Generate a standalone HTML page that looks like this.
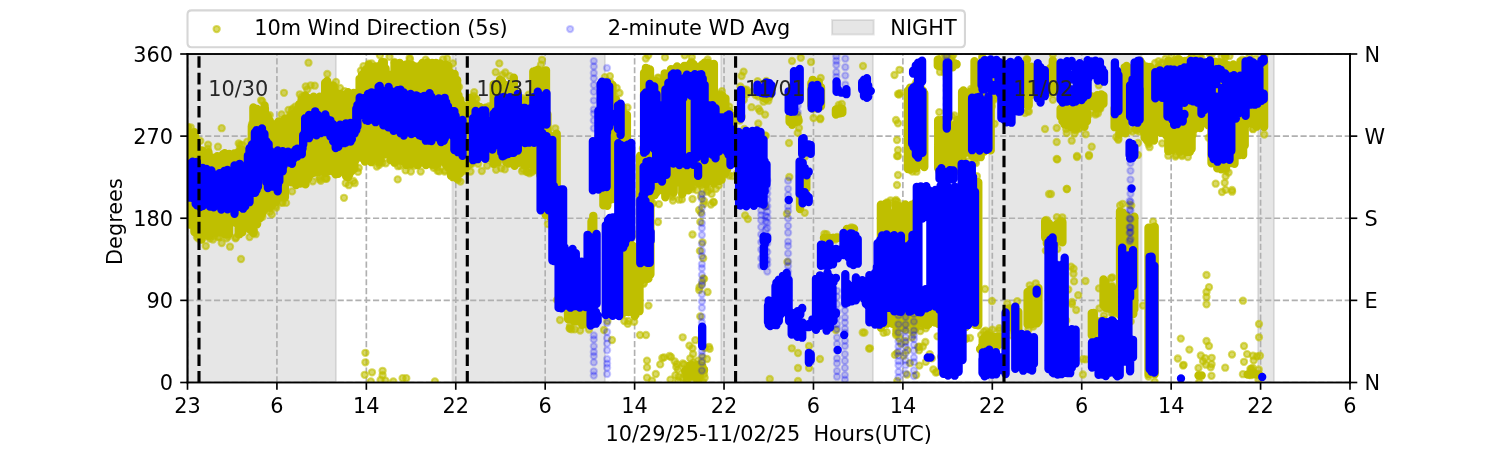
<!DOCTYPE html>
<html><head><meta charset="utf-8"><style>
html,body{margin:0;padding:0;background:#fff;width:1500px;height:450px;overflow:hidden}
svg{display:block}
text{white-space:pre}
.m circle{r:3.125px}
</style></head><body>
<svg width="1500" height="450" viewBox="0 0 720 216" version="1.1">
 
 <defs><clipPath id="axclip"><rect x="187.5" y="54" width="1162.5" height="328.5"/></clipPath>
  <style type="text/css">*{stroke-linejoin: round; stroke-linecap: butt}</style>
 </defs>
 <g id="figure_1">
  <g id="patch_1">
   <path d="M 0 216 
L 720 216 
L 720 0 
L 0 0 
z
" style="fill: #ffffff"/>
  </g>
  <g id="axes_1">
   <g id="patch_2">
    <path d="M 90 183.6 
L 648 183.6 
L 648 25.92 
L 90 25.92 
z
" style="fill: #ffffff"/>
   </g>
   <g id="patch_3">
    <path d="M 90 183.6 
L 161.28 183.6 
L 161.28 25.92 
L 90 25.92 
z
" clip-path="url(#pb94ecb44f5)" style="fill: #808080; fill-opacity: 0.2; stroke-opacity: 0.2; stroke: #808080; stroke-linejoin: miter"/>
   </g>
   <g id="patch_4">
    <path d="M 217.2 183.6 
L 290.4 183.6 
L 290.4 25.92 
L 217.2 25.92 
z
" clip-path="url(#pb94ecb44f5)" style="fill: #808080; fill-opacity: 0.2; stroke-opacity: 0.2; stroke: #808080; stroke-linejoin: miter"/>
   </g>
   <g id="patch_5">
    <path d="M 346.08 183.6 
L 419.04 183.6 
L 419.04 25.92 
L 346.08 25.92 
z
" clip-path="url(#pb94ecb44f5)" style="fill: #808080; fill-opacity: 0.2; stroke-opacity: 0.2; stroke: #808080; stroke-linejoin: miter"/>
   </g>
   <g id="patch_6">
    <path d="M 474.72 183.6 
L 547.92 183.6 
L 547.92 25.92 
L 474.72 25.92 
z
" clip-path="url(#pb94ecb44f5)" style="fill: #808080; fill-opacity: 0.2; stroke-opacity: 0.2; stroke: #808080; stroke-linejoin: miter"/>
   </g>
   <g id="patch_7">
    <path d="M 603.84 183.6 
L 611.52 183.6 
L 611.52 25.92 
L 603.84 25.92 
z
" clip-path="url(#pb94ecb44f5)" style="fill: #808080; fill-opacity: 0.2; stroke-opacity: 0.2; stroke: #808080; stroke-linejoin: miter"/>
   </g>
   <g id="matplotlib.axis_1">
    <g id="xtick_1">
     <g id="line2d_1">
      <path d="M 90 183.6 
L 90 25.92 
" clip-path="url(#pb94ecb44f5)" style="fill: none; stroke-dasharray: 2.96,1.28; stroke-dashoffset: 0; stroke: #b0b0b0; stroke-width: 0.8"/>
     </g>
     <g id="line2d_2">
      <defs>
       <path id="m1504cfccaf" d="M 0 0 
L 0 3.5 
" style="stroke: #000000; stroke-width: 0.8"/>
      </defs>
      <g>
       <use href="#m1504cfccaf" x="90" y="183.6" style="stroke: #000000; stroke-width: 0.8"/>
      </g>
     </g>
     <g id="text_1">
      <text style="font-size: 10px; font-family: 'DejaVu Sans', sans-serif; text-anchor: middle" x="90" y="198.198438" transform="rotate(-0 90 198.198438)">23</text>
     </g>
    </g>
    <g id="xtick_2">
     <g id="line2d_3">
      <path d="M 132.923077 183.6 
L 132.923077 25.92 
" clip-path="url(#pb94ecb44f5)" style="fill: none; stroke-dasharray: 2.96,1.28; stroke-dashoffset: 0; stroke: #b0b0b0; stroke-width: 0.8"/>
     </g>
     <g id="line2d_4">
      <g>
       <use href="#m1504cfccaf" x="132.923077" y="183.6" style="stroke: #000000; stroke-width: 0.8"/>
      </g>
     </g>
     <g id="text_2">
      <text style="font-size: 10px; font-family: 'DejaVu Sans', sans-serif; text-anchor: middle" x="132.923077" y="198.198438" transform="rotate(-0 132.923077 198.198438)">6</text>
     </g>
    </g>
    <g id="xtick_3">
     <g id="line2d_5">
      <path d="M 175.846154 183.6 
L 175.846154 25.92 
" clip-path="url(#pb94ecb44f5)" style="fill: none; stroke-dasharray: 2.96,1.28; stroke-dashoffset: 0; stroke: #b0b0b0; stroke-width: 0.8"/>
     </g>
     <g id="line2d_6">
      <g>
       <use href="#m1504cfccaf" x="175.846154" y="183.6" style="stroke: #000000; stroke-width: 0.8"/>
      </g>
     </g>
     <g id="text_3">
      <text style="font-size: 10px; font-family: 'DejaVu Sans', sans-serif; text-anchor: middle" x="175.846154" y="198.198438" transform="rotate(-0 175.846154 198.198438)">14</text>
     </g>
    </g>
    <g id="xtick_4">
     <g id="line2d_7">
      <path d="M 218.769231 183.6 
L 218.769231 25.92 
" clip-path="url(#pb94ecb44f5)" style="fill: none; stroke-dasharray: 2.96,1.28; stroke-dashoffset: 0; stroke: #b0b0b0; stroke-width: 0.8"/>
     </g>
     <g id="line2d_8">
      <g>
       <use href="#m1504cfccaf" x="218.769231" y="183.6" style="stroke: #000000; stroke-width: 0.8"/>
      </g>
     </g>
     <g id="text_4">
      <text style="font-size: 10px; font-family: 'DejaVu Sans', sans-serif; text-anchor: middle" x="218.769231" y="198.198438" transform="rotate(-0 218.769231 198.198438)">22</text>
     </g>
    </g>
    <g id="xtick_5">
     <g id="line2d_9">
      <path d="M 261.692308 183.6 
L 261.692308 25.92 
" clip-path="url(#pb94ecb44f5)" style="fill: none; stroke-dasharray: 2.96,1.28; stroke-dashoffset: 0; stroke: #b0b0b0; stroke-width: 0.8"/>
     </g>
     <g id="line2d_10">
      <g>
       <use href="#m1504cfccaf" x="261.692308" y="183.6" style="stroke: #000000; stroke-width: 0.8"/>
      </g>
     </g>
     <g id="text_5">
      <text style="font-size: 10px; font-family: 'DejaVu Sans', sans-serif; text-anchor: middle" x="261.692308" y="198.198438" transform="rotate(-0 261.692308 198.198438)">6</text>
     </g>
    </g>
    <g id="xtick_6">
     <g id="line2d_11">
      <path d="M 304.615385 183.6 
L 304.615385 25.92 
" clip-path="url(#pb94ecb44f5)" style="fill: none; stroke-dasharray: 2.96,1.28; stroke-dashoffset: 0; stroke: #b0b0b0; stroke-width: 0.8"/>
     </g>
     <g id="line2d_12">
      <g>
       <use href="#m1504cfccaf" x="304.615385" y="183.6" style="stroke: #000000; stroke-width: 0.8"/>
      </g>
     </g>
     <g id="text_6">
      <text style="font-size: 10px; font-family: 'DejaVu Sans', sans-serif; text-anchor: middle" x="304.615385" y="198.198438" transform="rotate(-0 304.615385 198.198438)">14</text>
     </g>
    </g>
    <g id="xtick_7">
     <g id="line2d_13">
      <path d="M 347.538462 183.6 
L 347.538462 25.92 
" clip-path="url(#pb94ecb44f5)" style="fill: none; stroke-dasharray: 2.96,1.28; stroke-dashoffset: 0; stroke: #b0b0b0; stroke-width: 0.8"/>
     </g>
     <g id="line2d_14">
      <g>
       <use href="#m1504cfccaf" x="347.538462" y="183.6" style="stroke: #000000; stroke-width: 0.8"/>
      </g>
     </g>
     <g id="text_7">
      <text style="font-size: 10px; font-family: 'DejaVu Sans', sans-serif; text-anchor: middle" x="347.538462" y="198.198438" transform="rotate(-0 347.538462 198.198438)">22</text>
     </g>
    </g>
    <g id="xtick_8">
     <g id="line2d_15">
      <path d="M 390.461538 183.6 
L 390.461538 25.92 
" clip-path="url(#pb94ecb44f5)" style="fill: none; stroke-dasharray: 2.96,1.28; stroke-dashoffset: 0; stroke: #b0b0b0; stroke-width: 0.8"/>
     </g>
     <g id="line2d_16">
      <g>
       <use href="#m1504cfccaf" x="390.461538" y="183.6" style="stroke: #000000; stroke-width: 0.8"/>
      </g>
     </g>
     <g id="text_8">
      <text style="font-size: 10px; font-family: 'DejaVu Sans', sans-serif; text-anchor: middle" x="390.461538" y="198.198438" transform="rotate(-0 390.461538 198.198438)">6</text>
     </g>
    </g>
    <g id="xtick_9">
     <g id="line2d_17">
      <path d="M 433.384615 183.6 
L 433.384615 25.92 
" clip-path="url(#pb94ecb44f5)" style="fill: none; stroke-dasharray: 2.96,1.28; stroke-dashoffset: 0; stroke: #b0b0b0; stroke-width: 0.8"/>
     </g>
     <g id="line2d_18">
      <g>
       <use href="#m1504cfccaf" x="433.384615" y="183.6" style="stroke: #000000; stroke-width: 0.8"/>
      </g>
     </g>
     <g id="text_9">
      <text style="font-size: 10px; font-family: 'DejaVu Sans', sans-serif; text-anchor: middle" x="433.384615" y="198.198438" transform="rotate(-0 433.384615 198.198438)">14</text>
     </g>
    </g>
    <g id="xtick_10">
     <g id="line2d_19">
      <path d="M 476.307692 183.6 
L 476.307692 25.92 
" clip-path="url(#pb94ecb44f5)" style="fill: none; stroke-dasharray: 2.96,1.28; stroke-dashoffset: 0; stroke: #b0b0b0; stroke-width: 0.8"/>
     </g>
     <g id="line2d_20">
      <g>
       <use href="#m1504cfccaf" x="476.307692" y="183.6" style="stroke: #000000; stroke-width: 0.8"/>
      </g>
     </g>
     <g id="text_10">
      <text style="font-size: 10px; font-family: 'DejaVu Sans', sans-serif; text-anchor: middle" x="476.307692" y="198.198438" transform="rotate(-0 476.307692 198.198438)">22</text>
     </g>
    </g>
    <g id="xtick_11">
     <g id="line2d_21">
      <path d="M 519.230769 183.6 
L 519.230769 25.92 
" clip-path="url(#pb94ecb44f5)" style="fill: none; stroke-dasharray: 2.96,1.28; stroke-dashoffset: 0; stroke: #b0b0b0; stroke-width: 0.8"/>
     </g>
     <g id="line2d_22">
      <g>
       <use href="#m1504cfccaf" x="519.230769" y="183.6" style="stroke: #000000; stroke-width: 0.8"/>
      </g>
     </g>
     <g id="text_11">
      <text style="font-size: 10px; font-family: 'DejaVu Sans', sans-serif; text-anchor: middle" x="519.230769" y="198.198438" transform="rotate(-0 519.230769 198.198438)">6</text>
     </g>
    </g>
    <g id="xtick_12">
     <g id="line2d_23">
      <path d="M 562.153846 183.6 
L 562.153846 25.92 
" clip-path="url(#pb94ecb44f5)" style="fill: none; stroke-dasharray: 2.96,1.28; stroke-dashoffset: 0; stroke: #b0b0b0; stroke-width: 0.8"/>
     </g>
     <g id="line2d_24">
      <g>
       <use href="#m1504cfccaf" x="562.153846" y="183.6" style="stroke: #000000; stroke-width: 0.8"/>
      </g>
     </g>
     <g id="text_12">
      <text style="font-size: 10px; font-family: 'DejaVu Sans', sans-serif; text-anchor: middle" x="562.153846" y="198.198438" transform="rotate(-0 562.153846 198.198438)">14</text>
     </g>
    </g>
    <g id="xtick_13">
     <g id="line2d_25">
      <path d="M 605.076923 183.6 
L 605.076923 25.92 
" clip-path="url(#pb94ecb44f5)" style="fill: none; stroke-dasharray: 2.96,1.28; stroke-dashoffset: 0; stroke: #b0b0b0; stroke-width: 0.8"/>
     </g>
     <g id="line2d_26">
      <g>
       <use href="#m1504cfccaf" x="605.076923" y="183.6" style="stroke: #000000; stroke-width: 0.8"/>
      </g>
     </g>
     <g id="text_13">
      <text style="font-size: 10px; font-family: 'DejaVu Sans', sans-serif; text-anchor: middle" x="605.076923" y="198.198438" transform="rotate(-0 605.076923 198.198438)">22</text>
     </g>
    </g>
    <g id="xtick_14">
     <g id="line2d_27">
      <path d="M 648 183.6 
L 648 25.92 
" clip-path="url(#pb94ecb44f5)" style="fill: none; stroke-dasharray: 2.96,1.28; stroke-dashoffset: 0; stroke: #b0b0b0; stroke-width: 0.8"/>
     </g>
     <g id="line2d_28">
      <g>
       <use href="#m1504cfccaf" x="648" y="183.6" style="stroke: #000000; stroke-width: 0.8"/>
      </g>
     </g>
     <g id="text_14">
      <text style="font-size: 10px; font-family: 'DejaVu Sans', sans-serif; text-anchor: middle" x="648" y="198.198438" transform="rotate(-0 648 198.198438)">6</text>
     </g>
    </g>
    <g id="text_15">
     <text style="font-size: 10px; font-family: 'DejaVu Sans', sans-serif; text-anchor: middle" x="369" y="211.876563" transform="rotate(-0 369 211.876563)">10/29/25-11/02/25  Hours(UTC)</text>
    </g>
   </g>
   <g id="matplotlib.axis_2">
    <g id="ytick_1">
     <g id="line2d_29">
      <path d="M 90 183.6 
L 648 183.6 
" clip-path="url(#pb94ecb44f5)" style="fill: none; stroke-dasharray: 2.96,1.28; stroke-dashoffset: 0; stroke: #b0b0b0; stroke-width: 0.8"/>
     </g>
     <g id="line2d_30">
      <defs>
       <path id="m5d545ce8f8" d="M 0 0 
L -3.5 0 
" style="stroke: #000000; stroke-width: 0.8"/>
      </defs>
      <g>
       <use href="#m5d545ce8f8" x="90" y="183.6" style="stroke: #000000; stroke-width: 0.8"/>
      </g>
     </g>
     <g id="text_16">
      <text style="font-size: 10px; font-family: 'DejaVu Sans', sans-serif; text-anchor: end" x="83" y="187.399219" transform="rotate(-0 83 187.399219)">0</text>
     </g>
    </g>
    <g id="ytick_2">
     <g id="line2d_31">
      <path d="M 90 144.18 
L 648 144.18 
" clip-path="url(#pb94ecb44f5)" style="fill: none; stroke-dasharray: 2.96,1.28; stroke-dashoffset: 0; stroke: #b0b0b0; stroke-width: 0.8"/>
     </g>
     <g id="line2d_32">
      <g>
       <use href="#m5d545ce8f8" x="90" y="144.18" style="stroke: #000000; stroke-width: 0.8"/>
      </g>
     </g>
     <g id="text_17">
      <text style="font-size: 10px; font-family: 'DejaVu Sans', sans-serif; text-anchor: end" x="83" y="147.979219" transform="rotate(-0 83 147.979219)">90</text>
     </g>
    </g>
    <g id="ytick_3">
     <g id="line2d_33">
      <path d="M 90 104.76 
L 648 104.76 
" clip-path="url(#pb94ecb44f5)" style="fill: none; stroke-dasharray: 2.96,1.28; stroke-dashoffset: 0; stroke: #b0b0b0; stroke-width: 0.8"/>
     </g>
     <g id="line2d_34">
      <g>
       <use href="#m5d545ce8f8" x="90" y="104.76" style="stroke: #000000; stroke-width: 0.8"/>
      </g>
     </g>
     <g id="text_18">
      <text style="font-size: 10px; font-family: 'DejaVu Sans', sans-serif; text-anchor: end" x="83" y="108.559219" transform="rotate(-0 83 108.559219)">180</text>
     </g>
    </g>
    <g id="ytick_4">
     <g id="line2d_35">
      <path d="M 90 65.34 
L 648 65.34 
" clip-path="url(#pb94ecb44f5)" style="fill: none; stroke-dasharray: 2.96,1.28; stroke-dashoffset: 0; stroke: #b0b0b0; stroke-width: 0.8"/>
     </g>
     <g id="line2d_36">
      <g>
       <use href="#m5d545ce8f8" x="90" y="65.34" style="stroke: #000000; stroke-width: 0.8"/>
      </g>
     </g>
     <g id="text_19">
      <text style="font-size: 10px; font-family: 'DejaVu Sans', sans-serif; text-anchor: end" x="83" y="69.139219" transform="rotate(-0 83 69.139219)">270</text>
     </g>
    </g>
    <g id="ytick_5">
     <g id="line2d_37">
      <path d="M 90 25.92 
L 648 25.92 
" clip-path="url(#pb94ecb44f5)" style="fill: none; stroke-dasharray: 2.96,1.28; stroke-dashoffset: 0; stroke: #b0b0b0; stroke-width: 0.8"/>
     </g>
     <g id="line2d_38">
      <g>
       <use href="#m5d545ce8f8" x="90" y="25.92" style="stroke: #000000; stroke-width: 0.8"/>
      </g>
     </g>
     <g id="text_20">
      <text style="font-size: 10px; font-family: 'DejaVu Sans', sans-serif; text-anchor: end" x="83" y="29.719219" transform="rotate(-0 83 29.719219)">360</text>
     </g>
    </g>
    <g id="text_21">
     <text style="font-size: 10px; font-family: 'DejaVu Sans', sans-serif; text-anchor: middle" x="57.832812" y="104.76" transform="translate(0.96 1.6) rotate(-90 57.832812 104.76)">Degrees</text>
    </g>
   </g>
   <g id="DATA_HERE">
    <defs>
     <path id="mfba19ebd6b" d="M 0 1.5 
C 0.397805 1.5 0.77937 1.341951 1.06066 1.06066 
C 1.341951 0.77937 1.5 0.397805 1.5 0 
C 1.5 -0.397805 1.341951 -0.77937 1.06066 -1.06066 
C 0.77937 -1.341951 0.397805 -1.5 0 -1.5 
C -0.397805 -1.5 -0.77937 -1.341951 -1.06066 -1.06066 
C -1.341951 -0.77937 -1.5 -0.397805 -1.5 0 
C -1.5 0.397805 -1.341951 0.77937 -1.06066 1.06066 
C -0.77937 1.341951 -0.397805 1.5 0 1.5 
z
" style="stroke: #bfbf00; stroke-opacity: 0.6"/>
    </defs>
    <g id="data" clip-path="url(#axclip)" transform="scale(0.48)"><g fill="#bfbf00" stroke="#bfbf00" fill-opacity="0.6" stroke-opacity="0.6" stroke-width="2.083" class="m"><circle cx="190.7" cy="127.3"/><circle cx="187.9" cy="127"/><circle cx="187.7" cy="127.6"/><circle cx="200.3" cy="140.9"/><circle cx="196.9" cy="237.1"/><circle cx="198.5" cy="238.5"/><circle cx="209.9" cy="238.6"/><circle cx="208.1" cy="144.6"/><circle cx="207.9" cy="148.9"/><circle cx="213.7" cy="236.3"/><circle cx="218" cy="146.7"/><circle cx="210.9" cy="236.1"/><circle cx="218.3" cy="237"/><circle cx="213" cy="239.5"/><circle cx="219.6" cy="237.2"/><circle cx="239.7" cy="148.9"/><circle cx="235.5" cy="238.4"/><circle cx="235.9" cy="237.4"/><circle cx="228.2" cy="236.3"/><circle cx="238.7" cy="143.4"/><circle cx="226.6" cy="238.3"/><circle cx="242" cy="144.9"/><circle cx="240.2" cy="144.9"/><circle cx="247.2" cy="141.7"/><circle cx="249.6" cy="237.1"/><circle cx="253" cy="232.6"/><circle cx="252" cy="123.9"/><circle cx="261.1" cy="100.3"/><circle cx="255.7" cy="234.2"/><circle cx="262.2" cy="101.1"/><circle cx="262.5" cy="216.9"/><circle cx="269.9" cy="211.7"/><circle cx="269.8" cy="115.1"/><circle cx="271.8" cy="214.4"/><circle cx="276.2" cy="207.7"/><circle cx="275.4" cy="206"/><circle cx="281.6" cy="114.4"/><circle cx="281.8" cy="202.6"/><circle cx="282.5" cy="202.7"/><circle cx="288.5" cy="109.9"/><circle cx="286.1" cy="202.9"/><circle cx="292.1" cy="191.4"/><circle cx="290.2" cy="114.3"/><circle cx="299.8" cy="94.3"/><circle cx="292.1" cy="110.3"/><circle cx="295.2" cy="106.7"/><circle cx="301.9" cy="96.8"/><circle cx="305.7" cy="86.4"/><circle cx="307.3" cy="89.4"/><circle cx="319.8" cy="179.3"/><circle cx="314.8" cy="85.7"/><circle cx="319.5" cy="177.3"/><circle cx="320.8" cy="180.8"/><circle cx="310.7" cy="85.3"/><circle cx="312.8" cy="181.3"/><circle cx="326.5" cy="178.7"/><circle cx="327.3" cy="74"/><circle cx="335.3" cy="87.7"/><circle cx="326.3" cy="178.1"/><circle cx="325.3" cy="178.7"/><circle cx="336" cy="81.9"/><circle cx="354.7" cy="183.2"/><circle cx="344.6" cy="91.2"/><circle cx="345.7" cy="183.2"/><circle cx="353.4" cy="181"/><circle cx="340" cy="88"/><circle cx="348.8" cy="185.2"/><circle cx="358.8" cy="167.9"/><circle cx="358" cy="171.9"/><circle cx="360.9" cy="70.6"/><circle cx="363.5" cy="66.1"/><circle cx="379.3" cy="164.8"/><circle cx="371.7" cy="63.4"/><circle cx="379.9" cy="55.3"/><circle cx="368.8" cy="63.6"/><circle cx="378.6" cy="162.3"/><circle cx="376.8" cy="166.5"/><circle cx="382.3" cy="162.7"/><circle cx="397.9" cy="166.2"/><circle cx="389.5" cy="56.8"/><circle cx="384" cy="61.9"/><circle cx="400" cy="165.7"/><circle cx="385.8" cy="163.3"/><circle cx="394.5" cy="61.9"/><circle cx="433.6" cy="167.8"/><circle cx="437.7" cy="167.4"/><circle cx="409.6" cy="58"/><circle cx="439.2" cy="171.4"/><circle cx="432.6" cy="165.4"/><circle cx="420.7" cy="171.5"/><circle cx="410" cy="59.4"/><circle cx="414.6" cy="165.5"/><circle cx="417.3" cy="165.1"/><circle cx="405.6" cy="170.4"/><circle cx="437.5" cy="170.7"/><circle cx="435.4" cy="165.2"/><circle cx="425.7" cy="59.7"/><circle cx="410.9" cy="171.5"/><circle cx="443.1" cy="59.3"/><circle cx="445" cy="170.4"/><circle cx="444.6" cy="171.6"/><circle cx="447.2" cy="58.7"/><circle cx="452.8" cy="63.4"/><circle cx="458" cy="179.9"/><circle cx="459.1" cy="86.9"/><circle cx="457.1" cy="80.6"/><circle cx="464.3" cy="171"/><circle cx="460.5" cy="181.6"/><circle cx="469.2" cy="165.3"/><circle cx="470" cy="163.7"/><circle cx="478.2" cy="163.8"/><circle cx="474.2" cy="92.1"/><circle cx="475.1" cy="159.8"/><circle cx="471.8" cy="163.7"/><circle cx="703.5" cy="204.2"/><circle cx="699.5" cy="287.2"/><circle cx="702.5" cy="357.3"/><circle cx="701.7" cy="368.8"/><circle cx="703.2" cy="258.2"/><circle cx="702.5" cy="242.3"/><circle cx="704.1" cy="278.9"/><circle cx="702" cy="361"/><circle cx="700.2" cy="316.4"/><circle cx="699.9" cy="250.9"/><circle cx="703.3" cy="278.5"/><circle cx="697.9" cy="360.6"/><circle cx="702" cy="283.7"/><circle cx="700.3" cy="221.9"/><circle cx="704.1" cy="201"/><circle cx="699.2" cy="290"/><circle cx="476.5" cy="99.1"/><circle cx="481.8" cy="171"/><circle cx="472" cy="99.9"/><circle cx="473.6" cy="96"/><circle cx="470.5" cy="171.5"/><circle cx="475.7" cy="98.5"/><circle cx="490.4" cy="107.8"/><circle cx="489.2" cy="106.1"/><circle cx="493.4" cy="163.7"/><circle cx="487.1" cy="165.7"/><circle cx="504.8" cy="169.4"/><circle cx="505.3" cy="72.5"/><circle cx="496.1" cy="169.8"/><circle cx="502.4" cy="75"/><circle cx="509.5" cy="76"/><circle cx="501.3" cy="168.4"/><circle cx="495.7" cy="72.2"/><circle cx="529.6" cy="173.4"/><circle cx="526.9" cy="172"/><circle cx="528.6" cy="94.6"/><circle cx="528.7" cy="172"/><circle cx="522" cy="171.2"/><circle cx="516" cy="92.7"/><circle cx="538" cy="170.5"/><circle cx="533.4" cy="170.6"/><circle cx="540.3" cy="175.5"/><circle cx="540" cy="174.6"/><circle cx="541" cy="64.7"/><circle cx="522.1" cy="98.2"/><circle cx="543" cy="100.4"/><circle cx="521.7" cy="101.2"/><circle cx="525.7" cy="102.6"/><circle cx="526.6" cy="171.5"/><circle cx="534" cy="169.4"/><circle cx="537.5" cy="103.3"/><circle cx="543.9" cy="168"/><circle cx="523.2" cy="169.3"/><circle cx="536.6" cy="104.6"/><circle cx="547.9" cy="224.1"/><circle cx="555.3" cy="128.3"/><circle cx="548.2" cy="131.5"/><circle cx="547.2" cy="128.5"/><circle cx="577.8" cy="301"/><circle cx="569.6" cy="328.6"/><circle cx="576.3" cy="301.3"/><circle cx="580.2" cy="330.5"/><circle cx="571.6" cy="329.4"/><circle cx="570.7" cy="303.5"/><circle cx="569.9" cy="328.3"/><circle cx="574.8" cy="329.4"/><circle cx="589" cy="329.5"/><circle cx="591.3" cy="239.6"/><circle cx="604.9" cy="77.2"/><circle cx="610.1" cy="81.8"/><circle cx="609.9" cy="76.2"/><circle cx="619.4" cy="194"/><circle cx="612.9" cy="97.7"/><circle cx="621.7" cy="189.5"/><circle cx="619.5" cy="93"/><circle cx="627.5" cy="107.5"/><circle cx="630.6" cy="233.3"/><circle cx="631.9" cy="236.3"/><circle cx="627.8" cy="323.9"/><circle cx="634.2" cy="321.8"/><circle cx="624.3" cy="321"/><circle cx="632" cy="232.7"/><circle cx="643.7" cy="283.8"/><circle cx="642.9" cy="148.4"/><circle cx="650.7" cy="154.1"/><circle cx="643.6" cy="283"/><circle cx="647.7" cy="198.5"/><circle cx="648.2" cy="55.4"/><circle cx="645.8" cy="58.6"/><circle cx="653" cy="203.4"/><circle cx="657.7" cy="77.6"/><circle cx="658.7" cy="78"/><circle cx="664.2" cy="76.9"/><circle cx="659" cy="204.1"/><circle cx="682.1" cy="194.4"/><circle cx="665" cy="57.4"/><circle cx="684.7" cy="55.3"/><circle cx="665.9" cy="195.6"/><circle cx="672.9" cy="200.6"/><circle cx="672.5" cy="196.8"/><circle cx="672.1" cy="194.1"/><circle cx="681.9" cy="199.4"/><circle cx="679.2" cy="199.7"/><circle cx="703" cy="189.6"/><circle cx="710.7" cy="189"/><circle cx="701.1" cy="185.2"/><circle cx="693.1" cy="186.3"/><circle cx="697" cy="190.2"/><circle cx="692.4" cy="189.2"/><circle cx="691.4" cy="61.6"/><circle cx="707.7" cy="59.5"/><circle cx="691.8" cy="57.3"/><circle cx="713.8" cy="202.4"/><circle cx="713.3" cy="201.8"/><circle cx="708.1" cy="190.3"/><circle cx="710.9" cy="204.5"/><circle cx="699.1" cy="210"/><circle cx="711.6" cy="193.9"/><circle cx="715.9" cy="188.8"/><circle cx="721.9" cy="91.2"/><circle cx="720.5" cy="93.9"/><circle cx="718.7" cy="185.4"/><circle cx="732.4" cy="176.1"/><circle cx="729.2" cy="106.6"/><circle cx="729.2" cy="175.5"/><circle cx="739.8" cy="120.6"/><circle cx="741.6" cy="76"/><circle cx="738.2" cy="181"/><circle cx="741" cy="176.4"/><circle cx="747.1" cy="167"/><circle cx="742.6" cy="196.9"/><circle cx="743.6" cy="71.6"/><circle cx="746.4" cy="140.3"/><circle cx="743.1" cy="177.5"/><circle cx="745.1" cy="215.4"/><circle cx="744.4" cy="89.7"/><circle cx="744.8" cy="183"/><circle cx="737" cy="173.5"/><circle cx="744.5" cy="172.1"/><circle cx="741.8" cy="116.6"/><circle cx="743.9" cy="99.7"/><circle cx="746.6" cy="89.7"/><circle cx="743.6" cy="167.8"/><circle cx="740.4" cy="86.5"/><circle cx="747.9" cy="219.1"/><circle cx="744.4" cy="192.4"/><circle cx="755.5" cy="95.1"/><circle cx="757.6" cy="81.1"/><circle cx="758.3" cy="123.5"/><circle cx="752.5" cy="131.6"/><circle cx="747" cy="94"/><circle cx="759.9" cy="111.1"/><circle cx="766.3" cy="80.9"/><circle cx="764.8" cy="83.7"/><circle cx="765.1" cy="114.6"/><circle cx="744.3" cy="129"/><circle cx="751.5" cy="107.2"/><circle cx="768.4" cy="100.7"/><circle cx="746" cy="91.5"/><circle cx="763.2" cy="87.7"/><circle cx="752.1" cy="92.1"/><circle cx="695.4" cy="377.1"/><circle cx="693.4" cy="362.4"/><circle cx="697.5" cy="378"/><circle cx="686.1" cy="380.6"/><circle cx="694.4" cy="378.1"/><circle cx="697.2" cy="382.5"/><circle cx="698.3" cy="382.5"/><circle cx="678.1" cy="369.6"/><circle cx="669.5" cy="356"/><circle cx="693.1" cy="354"/><circle cx="684" cy="364.4"/><circle cx="709" cy="346.8"/><circle cx="704.8" cy="348"/><circle cx="709.7" cy="348.9"/><circle cx="693.2" cy="365.8"/><circle cx="660.2" cy="364.4"/><circle cx="676.3" cy="367"/><circle cx="688" cy="373.6"/><circle cx="676.8" cy="364.1"/><circle cx="687.3" cy="380"/><circle cx="702.9" cy="381.5"/><circle cx="684.6" cy="374.8"/><circle cx="662.3" cy="358"/><circle cx="664.1" cy="357.4"/><circle cx="674.7" cy="361.3"/><circle cx="695.3" cy="340.2"/><circle cx="689.4" cy="345.6"/><circle cx="678.8" cy="376.8"/><circle cx="690.3" cy="358.3"/><circle cx="704.1" cy="374"/><circle cx="763.5" cy="101.7"/><circle cx="768.5" cy="89.2"/><circle cx="800.8" cy="57.8"/><circle cx="797.7" cy="132.9"/><circle cx="797.4" cy="114.7"/><circle cx="794.9" cy="116"/><circle cx="820.3" cy="118.4"/><circle cx="820.7" cy="77.9"/><circle cx="813.5" cy="118"/><circle cx="820.2" cy="119.2"/><circle cx="841.8" cy="103.9"/><circle cx="838.8" cy="105"/><circle cx="838.7" cy="108"/><circle cx="804.7" cy="212.8"/><circle cx="804.8" cy="156.8"/><circle cx="832.8" cy="237.8"/><circle cx="826.6" cy="234.2"/><circle cx="824.4" cy="233.9"/><circle cx="837.2" cy="236.9"/><circle cx="834.8" cy="239.7"/><circle cx="851.3" cy="227.4"/><circle cx="850.3" cy="229.1"/><circle cx="853.3" cy="227.8"/><circle cx="899.5" cy="69.8"/><circle cx="900.1" cy="93.1"/><circle cx="899" cy="94.6"/><circle cx="915.3" cy="84.5"/><circle cx="916.5" cy="81.6"/><circle cx="921.8" cy="80.9"/><circle cx="918.5" cy="79.3"/><circle cx="916.5" cy="171.7"/><circle cx="912.5" cy="171.6"/><circle cx="944.9" cy="54"/><circle cx="948.3" cy="57.4"/><circle cx="953.2" cy="54.9"/><circle cx="944.6" cy="72.8"/><circle cx="941.7" cy="54.4"/><circle cx="944.6" cy="68.3"/><circle cx="951.7" cy="57.7"/><circle cx="956.1" cy="171"/><circle cx="954.4" cy="115.3"/><circle cx="939.2" cy="171.5"/><circle cx="946.2" cy="175.1"/><circle cx="948.7" cy="117.2"/><circle cx="946.2" cy="176.6"/><circle cx="952" cy="116.8"/><circle cx="939.3" cy="112.1"/><circle cx="969" cy="161.2"/><circle cx="976" cy="163.1"/><circle cx="971" cy="89"/><circle cx="977" cy="89.9"/><circle cx="969.5" cy="164.8"/><circle cx="974.5" cy="162.1"/><circle cx="981.6" cy="87.3"/><circle cx="978.4" cy="89.1"/><circle cx="982.3" cy="88.7"/><circle cx="970.5" cy="166.9"/><circle cx="990.5" cy="101.7"/><circle cx="993.6" cy="100"/><circle cx="982.1" cy="57.3"/><circle cx="980.1" cy="95.6"/><circle cx="983.3" cy="99.6"/><circle cx="982.4" cy="57.4"/><circle cx="993.9" cy="98.6"/><circle cx="981.4" cy="101.3"/><circle cx="886.8" cy="202.4"/><circle cx="895.8" cy="201.1"/><circle cx="883.6" cy="332.9"/><circle cx="890.3" cy="202.8"/><circle cx="896" cy="335"/><circle cx="910.4" cy="330.3"/><circle cx="898" cy="334.6"/><circle cx="886.7" cy="332.1"/><circle cx="897.7" cy="202.2"/><circle cx="896" cy="333.3"/><circle cx="890.6" cy="200.3"/><circle cx="896.7" cy="330.6"/><circle cx="902.4" cy="326.6"/><circle cx="911.9" cy="337.5"/><circle cx="903.5" cy="355.7"/><circle cx="912.9" cy="326.5"/><circle cx="916.2" cy="375"/><circle cx="899.2" cy="338.2"/><circle cx="897" cy="353.1"/><circle cx="907.4" cy="350.2"/><circle cx="894.9" cy="354.9"/><circle cx="913.2" cy="332.1"/><circle cx="909.9" cy="363.1"/><circle cx="897.3" cy="381"/><circle cx="907" cy="374.6"/><circle cx="901.1" cy="343.7"/><circle cx="905.3" cy="341.1"/><circle cx="905.6" cy="329.9"/><circle cx="920.4" cy="331.1"/><circle cx="919.5" cy="304.8"/><circle cx="921.7" cy="326.2"/><circle cx="923.8" cy="300.7"/><circle cx="921" cy="304.7"/><circle cx="925.8" cy="328.4"/><circle cx="918.4" cy="305"/><circle cx="920.5" cy="325.7"/><circle cx="922.9" cy="346.5"/><circle cx="933.3" cy="369.4"/><circle cx="941.1" cy="356.6"/><circle cx="919.4" cy="365.6"/><circle cx="937.5" cy="336.4"/><circle cx="929.7" cy="354.2"/><circle cx="935.7" cy="372.6"/><circle cx="919.3" cy="346.7"/><circle cx="919.1" cy="350.4"/><circle cx="925.4" cy="342"/><circle cx="931.9" cy="358.4"/><circle cx="918.2" cy="347"/><circle cx="925.8" cy="361.9"/><circle cx="937.1" cy="372"/><circle cx="976.9" cy="176.2"/><circle cx="965.9" cy="338.2"/><circle cx="970.1" cy="338"/><circle cx="965.9" cy="339.1"/><circle cx="965.4" cy="179.1"/><circle cx="999.1" cy="330.3"/><circle cx="999.3" cy="328.1"/><circle cx="992.3" cy="329.7"/><circle cx="985.7" cy="330.6"/><circle cx="989.5" cy="332.3"/><circle cx="983.7" cy="331.6"/><circle cx="981.1" cy="335.1"/><circle cx="994.3" cy="351.3"/><circle cx="984.6" cy="352.2"/><circle cx="985.1" cy="354.1"/><circle cx="983.9" cy="351.8"/><circle cx="988.7" cy="351.6"/><circle cx="1011.1" cy="335.3"/><circle cx="1017.3" cy="301.2"/><circle cx="1015.3" cy="306.3"/><circle cx="1007.3" cy="303.5"/><circle cx="1029.7" cy="285.3"/><circle cx="1028.4" cy="329.8"/><circle cx="1035.8" cy="283.3"/><circle cx="1033.3" cy="326.5"/><circle cx="1057.3" cy="249"/><circle cx="1056.9" cy="217.1"/><circle cx="1062.3" cy="217.3"/><circle cx="1046.6" cy="219.8"/><circle cx="1045.8" cy="250.6"/><circle cx="1060.5" cy="220.5"/><circle cx="1068.3" cy="289.5"/><circle cx="1078.2" cy="295.2"/><circle cx="1073.6" cy="268.7"/><circle cx="1062.1" cy="278.1"/><circle cx="1063.8" cy="312.3"/><circle cx="1066.2" cy="320.4"/><circle cx="1073.5" cy="273.7"/><circle cx="1074.1" cy="281.4"/><circle cx="1071" cy="266.6"/><circle cx="1076.2" cy="310"/><circle cx="1071.9" cy="304.1"/><circle cx="1083.1" cy="359.2"/><circle cx="1082.9" cy="374.5"/><circle cx="1085.8" cy="359.4"/><circle cx="1098.7" cy="340.4"/><circle cx="1099.5" cy="308.3"/><circle cx="1095.1" cy="337.8"/><circle cx="1097.1" cy="339.1"/><circle cx="1114.3" cy="311.6"/><circle cx="1111.1" cy="278.1"/><circle cx="1113.7" cy="314.4"/><circle cx="1104" cy="315.5"/><circle cx="1111.8" cy="313.4"/><circle cx="1115.8" cy="311.9"/><circle cx="1130.8" cy="321.4"/><circle cx="1131.3" cy="205.6"/><circle cx="1120.1" cy="205.4"/><circle cx="1122.6" cy="203.9"/><circle cx="1129.7" cy="204.7"/><circle cx="1154.6" cy="381.7"/><circle cx="1153.1" cy="221.7"/><circle cx="1148.5" cy="376.6"/><circle cx="996.6" cy="94.5"/><circle cx="998.5" cy="93.1"/><circle cx="994" cy="83.5"/><circle cx="994.6" cy="123.8"/><circle cx="998" cy="91.5"/><circle cx="992.1" cy="95.7"/><circle cx="991.9" cy="106.2"/><circle cx="1027.2" cy="59.6"/><circle cx="1025.7" cy="63.1"/><circle cx="1015.7" cy="109"/><circle cx="1026.9" cy="60.1"/><circle cx="1026.6" cy="59.1"/><circle cx="1025.8" cy="63.4"/><circle cx="1028.9" cy="111.5"/><circle cx="1025" cy="113.1"/><circle cx="1034.9" cy="71.2"/><circle cx="1025.6" cy="70.1"/><circle cx="1027.7" cy="111.3"/><circle cx="1052.9" cy="54.6"/><circle cx="1052.9" cy="99.8"/><circle cx="1073.5" cy="129.5"/><circle cx="1078.8" cy="128"/><circle cx="1079.1" cy="128.7"/><circle cx="1085.7" cy="134.3"/><circle cx="1075.9" cy="130"/><circle cx="1074.6" cy="133.6"/><circle cx="1066.7" cy="100.8"/><circle cx="1062.3" cy="102.3"/><circle cx="1066.2" cy="129.1"/><circle cx="1095.5" cy="114.6"/><circle cx="1089.3" cy="114.3"/><circle cx="1100.2" cy="108.9"/><circle cx="1095.9" cy="113.1"/><circle cx="1098" cy="113.3"/><circle cx="1098.8" cy="85.3"/><circle cx="1116.2" cy="137.1"/><circle cx="1118.3" cy="139.8"/><circle cx="1119.6" cy="98.5"/><circle cx="1118.3" cy="138.7"/><circle cx="1132.3" cy="131.5"/><circle cx="1139.3" cy="131.6"/><circle cx="1129.2" cy="130"/><circle cx="1135.9" cy="128.4"/><circle cx="1136.7" cy="130.4"/><circle cx="1135.4" cy="129.1"/><circle cx="1143.4" cy="130.7"/><circle cx="1144.6" cy="132.7"/><circle cx="1139.3" cy="128.3"/><circle cx="1143.9" cy="132.2"/><circle cx="1147.2" cy="75.1"/><circle cx="1143.2" cy="65"/><circle cx="1162.2" cy="143.3"/><circle cx="1161.6" cy="62.9"/><circle cx="1161.1" cy="64.6"/><circle cx="1155.1" cy="63"/><circle cx="1148.5" cy="144.3"/><circle cx="1165.4" cy="58.9"/><circle cx="1158.6" cy="61.1"/><circle cx="1149.6" cy="147.2"/><circle cx="1178.4" cy="58.7"/><circle cx="1178" cy="59.1"/><circle cx="1175.1" cy="59.9"/><circle cx="1175.4" cy="156.5"/><circle cx="1176" cy="155"/><circle cx="1187.9" cy="157.1"/><circle cx="1181.8" cy="154.7"/><circle cx="1171.5" cy="55.3"/><circle cx="1168.3" cy="155.7"/><circle cx="1211.8" cy="54.3"/><circle cx="1191.6" cy="54"/><circle cx="1191.4" cy="132.1"/><circle cx="1201.5" cy="58"/><circle cx="1192" cy="54.5"/><circle cx="1185.4" cy="134.6"/><circle cx="1193" cy="134.6"/><circle cx="1199.6" cy="55.9"/><circle cx="1208.6" cy="137.7"/><circle cx="1209.7" cy="54"/><circle cx="1224.9" cy="54.7"/><circle cx="1228.6" cy="172.5"/><circle cx="1225.5" cy="56.3"/><circle cx="1225.4" cy="57.2"/><circle cx="1224.5" cy="54"/><circle cx="1221.5" cy="56.8"/><circle cx="1225.6" cy="176.2"/><circle cx="1226" cy="170.8"/><circle cx="1232.1" cy="191.7"/><circle cx="1225.6" cy="189.9"/><circle cx="1224.7" cy="182.8"/><circle cx="1215.7" cy="183.7"/><circle cx="1230" cy="157.4"/><circle cx="1237.4" cy="155"/><circle cx="1228.8" cy="161.1"/><circle cx="1229.5" cy="56"/><circle cx="1242.2" cy="59.7"/><circle cx="1229.5" cy="155.4"/><circle cx="1255.7" cy="58.9"/><circle cx="1264.3" cy="134.5"/><circle cx="1264.2" cy="56.8"/><circle cx="1253.2" cy="129.2"/><circle cx="1249.5" cy="56.8"/><circle cx="1264.6" cy="54"/><circle cx="1252.7" cy="128.7"/><circle cx="1183.1" cy="365.6"/><circle cx="1183.6" cy="364.8"/><circle cx="1177.8" cy="358.5"/><circle cx="1211.7" cy="357.8"/><circle cx="1203" cy="361.3"/><circle cx="1205.9" cy="364.7"/><circle cx="1225.2" cy="367.7"/><circle cx="1211.6" cy="364.2"/><circle cx="1211.5" cy="375.8"/><circle cx="1210.7" cy="367.3"/><circle cx="1205.2" cy="358.2"/><circle cx="1200.8" cy="355.5"/><circle cx="1247.1" cy="354.1"/><circle cx="1250.4" cy="369"/><circle cx="1242.9" cy="374.2"/><circle cx="1251.3" cy="370.5"/><circle cx="1250.8" cy="375.2"/><circle cx="1257" cy="356.4"/><circle cx="1253.7" cy="360.4"/><circle cx="1198.5" cy="368"/><circle cx="1199.2" cy="382.3"/><circle cx="1258.8" cy="369.5"/><circle cx="1258.5" cy="379.9"/><circle cx="1251.4" cy="368.9"/><circle cx="1252.7" cy="367.8"/><circle cx="221.7" cy="128.2"/><circle cx="308.5" cy="62.7"/><circle cx="284" cy="92.8"/><circle cx="292.6" cy="108.7"/><circle cx="397.7" cy="179.4"/><circle cx="344" cy="197.8"/><circle cx="241" cy="259"/><circle cx="205.8" cy="246"/><circle cx="221.7" cy="243"/><circle cx="230" cy="246.7"/><circle cx="365.4" cy="352.8"/><circle cx="365.4" cy="362.3"/><circle cx="364.7" cy="374.8"/><circle cx="372" cy="372.3"/><circle cx="382.6" cy="370.8"/><circle cx="382.6" cy="375.2"/><circle cx="370.8" cy="381.4"/><circle cx="380.6" cy="380"/><circle cx="385.5" cy="380.6"/><circle cx="393.3" cy="381.4"/><circle cx="402.6" cy="378.2"/><circle cx="406.3" cy="378.2"/><circle cx="434.9" cy="381.4"/><circle cx="499.3" cy="63.4"/><circle cx="542" cy="59.8"/><circle cx="616.7" cy="87.9"/><circle cx="758.5" cy="108.7"/><circle cx="765.8" cy="135.6"/><circle cx="758.5" cy="96.5"/><circle cx="531" cy="164.8"/><circle cx="532" cy="172"/><circle cx="658" cy="222"/><circle cx="692.5" cy="199"/><circle cx="701" cy="196.6"/><circle cx="692.5" cy="234.5"/><circle cx="701" cy="212.5"/><circle cx="707" cy="191.7"/><circle cx="610.6" cy="172"/><circle cx="610.6" cy="184"/><circle cx="616.7" cy="189"/><circle cx="636" cy="297"/><circle cx="628.4" cy="303"/><circle cx="648.5" cy="305.6"/><circle cx="628.4" cy="321"/><circle cx="646" cy="335"/><circle cx="647" cy="360.6"/><circle cx="647" cy="367.4"/><circle cx="655.8" cy="374"/><circle cx="647" cy="377.7"/><circle cx="652" cy="380.6"/><circle cx="671" cy="357"/><circle cx="682.7" cy="337.3"/><circle cx="682.7" cy="363.5"/><circle cx="692.5" cy="348.3"/><circle cx="691.3" cy="368"/><circle cx="675.4" cy="375.2"/><circle cx="670.5" cy="379.6"/><circle cx="682.7" cy="377.7"/><circle cx="690" cy="372.8"/><circle cx="695" cy="370.4"/><circle cx="700" cy="372.8"/><circle cx="704.7" cy="377.7"/><circle cx="707.6" cy="292"/><circle cx="707" cy="359"/><circle cx="607.4" cy="321"/><circle cx="570" cy="326"/><circle cx="700" cy="378"/><circle cx="698" cy="381"/><circle cx="688" cy="380"/><circle cx="678" cy="381"/><circle cx="557" cy="300"/><circle cx="560" cy="320"/><circle cx="604" cy="330"/><circle cx="612" cy="340"/><circle cx="640" cy="335"/><circle cx="863" cy="66"/><circle cx="894.5" cy="75"/><circle cx="898" cy="94"/><circle cx="898" cy="123.3"/><circle cx="898" cy="150"/><circle cx="898" cy="156"/><circle cx="940" cy="62"/><circle cx="940" cy="72"/><circle cx="965.4" cy="135.6"/><circle cx="964" cy="152.7"/><circle cx="765" cy="135.6"/><circle cx="789" cy="143"/><circle cx="799" cy="128"/><circle cx="799" cy="121"/><circle cx="811" cy="62"/><circle cx="792" cy="61"/><circle cx="789.3" cy="177"/><circle cx="786.9" cy="213.7"/><circle cx="787.4" cy="262"/><circle cx="897" cy="156"/><circle cx="765" cy="206"/><circle cx="769.8" cy="379"/><circle cx="791.8" cy="348.3"/><circle cx="798" cy="353"/><circle cx="798" cy="368"/><circle cx="798" cy="381"/><circle cx="820" cy="359"/><circle cx="809" cy="346"/><circle cx="809" cy="368"/><circle cx="835.8" cy="330"/><circle cx="862.7" cy="332.5"/><circle cx="870" cy="348.3"/><circle cx="985" cy="289"/><circle cx="992" cy="301"/><circle cx="864.5" cy="332.6"/><circle cx="869" cy="348.6"/><circle cx="961.7" cy="280"/><circle cx="1045" cy="129"/><circle cx="1056.7" cy="128"/><circle cx="1066.7" cy="133"/><circle cx="1071.7" cy="140.7"/><circle cx="1056.7" cy="142"/><circle cx="1091.7" cy="146.7"/><circle cx="1089" cy="155"/><circle cx="1077" cy="156"/><circle cx="1056.7" cy="159"/><circle cx="1066.7" cy="189"/><circle cx="1049" cy="194"/><circle cx="896" cy="120"/><circle cx="897" cy="140"/><circle cx="898" cy="175"/><circle cx="897" cy="185"/><circle cx="896" cy="200"/><circle cx="1057.3" cy="159.4"/><circle cx="1077" cy="157"/><circle cx="1089" cy="156"/><circle cx="1067" cy="189"/><circle cx="1051" cy="194"/><circle cx="1182" cy="156"/><circle cx="1222" cy="192"/><circle cx="1232" cy="190"/><circle cx="1085.5" cy="281"/><circle cx="1099" cy="288.4"/><circle cx="1112.3" cy="277.4"/><circle cx="1112.3" cy="286"/><circle cx="1112.3" cy="294.6"/><circle cx="1072" cy="302"/><circle cx="1143" cy="305.6"/><circle cx="1206.5" cy="275"/><circle cx="1209" cy="287.2"/><circle cx="1206.5" cy="292"/><circle cx="1206.5" cy="297"/><circle cx="1206.5" cy="304.3"/><circle cx="1243" cy="300.7"/><circle cx="1259" cy="324"/><circle cx="1259" cy="337.3"/><circle cx="1180.8" cy="338.6"/><circle cx="1189.4" cy="349.6"/><circle cx="1206.5" cy="341"/><circle cx="1209" cy="346"/><circle cx="1232" cy="354.5"/><circle cx="1244" cy="346"/><circle cx="1244" cy="361.8"/><circle cx="1253" cy="355.7"/><circle cx="1260" cy="355.7"/><circle cx="1138" cy="143"/><circle cx="1138" cy="155"/></g><path fill="none" stroke="#bfbf00" stroke-width="8.33" style="stroke-linecap:round" d="M186.6 133.5V215.2M189.4 141.6V224.6M191.1 133.8V224.8M192.9 132.6V224.1M195.2 136.3V228.5M194.4 132.1V232.1M196.8 141.4V233.8M198 154.1V220.4M199.8 160.1V228M201.5 158.9V219.2M201.7 150.3V239.5M203.5 151.8V234.9M206.4 157.4V234.8M208.5 152.1V236.1M210.7 157.1V230.8M209.7 164.1V222.2M211.6 157.3V227.4M213.7 168.2V230.2M215.8 160.9V232.9M217.3 156.1V230.4M219.5 157.8V232.4M220.8 156.2V228M223 154.2V230.3M224.8 155.5V234.1M224.7 153.1V233.8M227.2 162.7V234M229.1 154V233.8M230 154.8V224.3M232.8 154.8V221.4M234.4 153.3V218.5M236.8 153.1V223.5M238.7 151.9V234.4M239.6 158.2V230.2M239.5 151.5V234.2M242.3 149.9V232.4M244.4 155.2V220.1M246.6 152.8V224M247.3 157V216.4M250.2 151.2V224.8M250.2 152.1V229.9M251.8 126.2V224.1M253.4 107.5V226.3M253.6 110.4V233M256.5 108.9V224.6M257.1 108.9V224.3M259.9 111.7V218.4M261.9 112.1V214.6M262.8 116.1V212.4M264.6 105.5V209.2M264.9 108V208M267.8 116.2V206.3M269.8 120.7V207.8M270.7 122.6V201.7M272.2 124.4V205.4M273.9 126.1V194.5M275.9 129.2V201.8M278.6 121.4V195.4M277.7 122.7V196.9M280 123.4V194.6M281.7 127.9V197.3M283.5 123.4V194.9M284.4 121.4V193.6M284.9 118.7V197.5M287.9 129.9V181.7M289.7 123.6V179.6M290 116.9V176.3M291.4 115.4V182.3M293.8 113.9V173.4M296.1 111.8V185.1M297 109.9V183M299.2 104.1V183.7M301.6 99.3V179.6M303 101.7V183.3M305.5 101.5V184.4M305.2 95.4V177.6M308 98V178.9M309.9 100.7V173.9M310 106.3V174.7M311.8 106.9V171.6M313.6 96.7V172.9M315 99.4V169.1M318.2 99.6V172.2M319.7 96.6V169.7M321.2 100.1V170.6M323 102.5V168.4M324.9 99.1V173M325.2 82.6V163.5M327.1 80.9V161.4M329 92.7V171.1M330 87.9V159.9M333 85.5V159.4M334.3 91V172.2M335.6 92.8V174.3M338.2 94.4V173.9M340.1 110.9V169.5M340.4 94V167.3M342.1 95.3V165.5M344.4 94.9V170.4M346.1 94.7V176.2M348 92.2V177.3M349.3 93.1V174.8M351.5 98V171.4M353.7 92.8V167.2M355.7 96.2V160M354.4 97.8V168.9M357.2 95.8V154.1M359.8 91.4V157.2M359.6 78.8V151.3M361.9 74.9V157.7M365.6 73.4V155.3M364.9 71V161.5M366.7 68.8V157M368.9 65V153.3M371.3 67.8V162.2M372.9 74.1V154M375 69.3V156.3M375.7 66.3V155.9M378.8 66.4V159.8M379.5 69.6V162M380.7 64.6V159.3M382.2 61.8V153.9M383.8 62.3V154.9M385.6 68.4V151.1M387.6 79V151M390.5 74.7V160M392.6 74.8V159.5M394.5 62.8V162.7M395.4 64.9V154.8M397.7 66V160.3M399.8 62.9V159.5M399.3 63.2V160.4M402.5 66V161.1M403.6 66.7V160.4M406.3 64.4V165M408 64.2V160.5M410.4 67.4V164.7M411.9 64.8V163.2M414.5 66.2V159M416 67.1V156.6M417.8 67.5V165.1M420 65.7V161.8M422.4 63V162.5M424.4 75.1V162.1M426 63.8V165M427.6 62.4V161M429.3 70V158.3M432.1 62.8V164.5M434.5 63.3V163.7M436 63V163.2M438.1 64.1V163.8M439.5 69.7V151.2M440.2 63.4V157.2M441.9 65.8V154.1M445 70.2V162.8M446 64.7V165M448.4 65.9V167.8M451 73V175.8M452.9 78.6V177.2M452.5 76.2V174.5M454.6 74V172.5M457.1 80V178.5M458.5 95.2V170.9M460.3 99.5V164.2M460.1 101.7V173.4M461.8 104.3V169.9M463.8 106.4V169.6M466.5 108.1V167M467.5 111.8V160.1M469.8 97.9V148.6M470.3 99.5V156.5M472.6 102.1V155.1M473.9 109.4V152M476 113.1V158.7M478 106.8V152.2M480.5 107.9V154.4M470.4 102.2V163.2M471.9 101.5V158.6M474.4 110.6V152.6M476.1 111.3V149.5M477 105.5V145.3M479.9 106.9V141.6M481 111.2V142.9M483 111.2V149.1M485.6 107.7V156.5M485.5 120.6V150.2M487.4 125.5V155.5M489.3 131.1V158.1M491.8 111.6V150.5M494.4 119.2V152.6M493.7 84.5V163.8M495.5 84.7V158.6M497.7 84.7V162.6M499.9 79.6V153.3M502 81.1V153.4M503.9 86.9V156.1M506.2 85.2V162.3M508.6 92.9V163.5M510.4 89.6V155.5M512.4 94.3V158.5M513.8 77.6V154.3M514.6 109.1V165.9M516 98.5V161.4M517.9 100.5V163M519.9 104.3V161.4M522.8 100.4V161.4M524 100.9V160.3M527.3 100.4V164.5M529.4 100.1V164.2M530.4 109.9V158M533.3 71.5V158.2M535.5 70.7V167.6M537.9 69.7V168.8M540.1 79.5V168.8M541.8 73V170.6M544.5 70.8V157.5M546 70.3V159.2M520.1 107.1V161.8M521.5 107.6V155.7M524 109.7V164.8M525.4 121.3V152.8M527.4 112.8V164.9M529.2 111.2V163.7M531.2 115.1V153M533.1 109.7V162.6M534.8 110V153M537.8 110V161.3M538.8 111.4V151.5M540.7 116.5V160.3M543.3 112.2V156.5M544.4 106.3V159.6M547.4 114.3V161.4M545.7 137.1V215.1M548.7 141.3V212.9M549.8 135.3V216.8M552.8 137.4V216.7M555 140.7V210.3M556.7 133.6V210.8M568 311.2V319M570.6 310.4V318M572.1 307V319.4M574.2 306.5V321.5M576.7 307.1V321.4M578.4 308.7V319.8M580.6 306.4V316.1M582.2 312.1V324.8M584.5 309.4V324.4M585.7 306.2V319.9M588 310.4V321.8M590.4 308.4V322.1M591.8 307.3V319.2M593.8 306.7V315.6M591.5 221.3V233M593.3 215.8V230.8M603.4 83.1V205.4M605.3 85.9V201.7M607.3 81.4V205.8M609.3 86.6V200.3M612.5 84.9V199M611.9 100.3V181.2M614.5 104.3V184.3M616.1 99.5V183.5M617.9 117.6V180.7M620.4 114.4V188.3M622.4 106.8V180.7M626.9 114.8V150.8M622.2 241V314.2M624.1 244.2V312.6M626.8 245.3V311M628.6 242.5V312M629.9 241V310.8M632.7 245.6V308.4M634.7 256.7V316.1M635.5 248.4V314.9M638 246.4V304.2M639.5 256V311.2M640.1 155.7V275.7M641.4 161.8V280.5M643 166.1V276.5M644.8 164.9V267.6M646.9 166.6V279M648.5 164.2V278.5M650.4 157V274.6M644.1 72.6V193.2M645.9 67.8V194.8M648 68.7V192.9M650 69.5V187.9M651.9 80.9V191M651.6 79.8V192.4M654.8 91.1V195.1M656.3 81.2V192.8M658.9 83.4V190.2M660.4 82.5V189M663 81.5V190.6M665.3 84.1V197.3M664.7 73.3V190.2M666.6 77.1V185M669.4 80.4V189.9M671 69.2V190.6M673.7 79.8V192.6M675.7 68.1V182.9M677.1 66.4V179.7M680.1 73.9V182.9M682.3 68.8V193.9M684.2 65.9V187M686.2 65.8V186.6M688.3 71.5V190.3M690.7 63.2V187.4M690.2 74V181.1M691.7 63.9V183.1M693.6 64.2V177.4M695.5 67.9V178.7M698.5 78.2V183.4M700.7 66V182.8M702.5 64.3V178.1M704.5 62.6V179.5M706 73.3V184.3M708 62.6V178.2M709.7 67.7V170.9M712.6 83.2V181.1M713.9 63.9V183.6M713.3 102.8V171.5M715.2 98.2V178M718 95.2V176.2M719.1 98.8V181.1M721.6 95.6V179.7M722.5 95.7V170.2M725.4 98.3V173.7M724.3 118.8V162.8M727.1 113V169.5M729.3 111.1V148.7M731.4 115.9V160.9M733.3 115.8V163.4M685.1 371h0M686.8 369.3V376.3M689.8 365.3V375.2M691.6 364.8V376M692.9 365.5V376.3M695.1 365.8V376.5M698.2 364.9V375.1M699.5 369.6V375M702.3 366V368.5M704 369.5V370.4M762.7 93.7V97.1M764.5 93.1V98.4M766.3 92.5V99M769.2 92.8V97.1M789.6 116.8V122M792.1 115.9V124.8M793.7 117.2V120.9M795.9 116.4V122.1M798.1 118.2V121.2M811.4 82.9V105.4M812.7 79.8V108.6M815.3 87.5V105.4M817.2 83.4V108.5M818.7 81.6V107.7M821 87.2V106.3M835.9 109.4V114.5M838.8 113.5h0M840.1 108.7V113.4M842.3 108.9V112.9M800 175.3V209M801.4 177.8V203.4M803.6 168V187.9M806.3 173.5V189.1M823.9 238h0M826.5 238h0M828.2 238h0M829.8 238h0M832.6 238h0M833.7 238h0M836.1 238h0M837.6 238h0M846.9 229h0M848.9 229h0M850.3 229h0M853.2 229h0M854.1 229h0M907.9 90.7V169M910.1 87.6V169.6M911.9 87.8V166.7M915.1 90.5V158.1M916.4 90.4V168.3M918.4 90.2V156.3M920.3 85.8V150.6M923 90.6V154.9M924.3 93.2V167.1M937.8 59.7V65.9M940.5 64.9V66.3M942.6 62.3V63.7M944.2 60.8V64M947 63.7V66.6M948.4 60.6V63.4M950.6 60.3V67M952.7 63V67.3M955 63.5h0M956.6 64V64.6M938.2 120.1V168.4M940.2 127.5V164.3M942 119.8V164.1M943.7 121.7V163.6M946.4 119.9V166.2M948 121.5V165.5M950.2 124.7V156.9M952.5 128.5V168.1M954.1 128.4V169.4M956.6 122.9V168.4M957.6 119.8V169.9M959.6 122.3V168.8M962.5 123.6V160M962.1 91.7V158.6M963.4 90.4V152.6M965.7 92.9V147.3M967.5 95V152.6M970.1 91.9V152.4M972.2 99.6V155.8M973.9 102.1V146.7M975.5 101.1V157.5M977.8 100.7V151.1M980.7 92.1V157.2M982.1 94.4V144.4M984.3 100.3V151.6M986.7 89.7V149.7M987.4 98.6V146.3M990.7 95.2V150.4M974.5 61.1V93.1M976.5 64V91.2M979.4 73.1V86.9M981 65.4V90.2M983.3 61V83.8M985.6 63.1V86.2M987 73.4V90.3M989.1 78.7V89.3M991 78.4V90.8M993 74.5V95.5M995.2 63.5V89.6M997.2 70.2V86M880.9 204.7V327.7M883.3 208.9V324.4M885.4 203.9V319.2M887.1 203.4V323.7M888.7 212.3V320.1M890.7 218.9V317.1M892.6 217.2V323.8M895.7 205V325.6M896.6 208.7V330.1M899.1 206.2V319M900.6 207V327.6M903.7 206.3V328.1M905.3 204.5V321.2M907.6 212.6V322.9M909.4 212.8V322.6M911.7 204.7V318.4M913.7 205.2V325.2M915.4 202.8V328.8M917 305.5V318.8M919 311.7V322M921 307.7V322.6M922.4 308.3V323.5M924.7 310.5V315.1M927.2 309.5V325.2M928.6 312.2V324.2M930.5 311.8V322.1M933.3 309.5V320.1M935 317.1V322.6M936.4 313.4V317.3M938.2 307.3V323.9M965.8 179.8V327M966.6 187.4V321.1M968.9 187.9V318.9M971 183.5V322.7M973.3 183.1V321.9M975.3 182.3V324.8M978.3 182.2V325.3M982.7 339.4V343.4M984.6 337.1V344.8M987.1 334.8V343.5M989.1 335.8V340.7M991.7 340.6V343.3M993.3 336.9V343.1M995.7 338.1V345.4M997.6 336.8V342.6M999.9 336.8V344.2M980.1 348.9V349.2M982 346h0M984.8 345.4V348.1M985.7 346h0M988.7 344.9V345.7M990.3 346h0M993.1 347.7V350.5M995 347.8V348.3M997.4 346h0M1007.3 312.4V325.2M1009.5 308.3V325M1010.8 313.8V327.6M1013.6 310.5V329M1015.5 316.6V333.2M1018.3 311.6V330.3M1027.6 292V324.6M1031 289.3V323.2M1032.5 291V324M1034.1 293.3V320.5M1037.1 293.8V323.4M1038.4 288V321.5M1045.2 220.7V237.8M1046.8 225.2V243.5M1048.8 223.1V244.8M1050.5 226V244.6M1053.6 225.8V242.2M1054.7 225.9V233.9M1057.4 223.8V241.9M1059.5 225.3V230.5M1061.2 221.7V231.9M1062.4 222V242.3M1091.8 313.1V335.4M1093.8 312.8V332.3M1096.3 327V329.8M1099.3 321.4V324.8M1100.6 323.7V332.3M1103.7 319.9V327.4M1103.5 279.4V305.4M1105.6 281.8V307.8M1107.8 299.2V308.6M1109 289.6V308.6M1111.8 287.1V308.5M1113.1 292.6V302.6M1116.2 292.3V306.3M1117.3 301.7V305.8M1120.4 295.1V307.9M1120 211.3V315M1122.4 212.3V307.5M1124.2 218.5V311M1126.7 215.6V314.5M1128.3 219.9V315.8M1130.4 219.8V301M1133.3 224.5V314.1M1134.3 216.6V309.4M1148.5 227.7V374.2M1150.9 228.1V370.8M1153.3 232.5V373.3M1154.7 226.7V374.2M1014.6 67V94.6M1017.3 75.5V97.2M1018.9 67.7V100.4M1022 77.7V95.9M1024.1 73.3V92.7M1025.5 68.1V97.6M1027.5 71.3V101.7M1030.1 67.4V95.5M1031.3 66.6V93.1M1023.4 81.9V103.3M1024.6 76V103.3M1027.2 76.2V105.2M1028.7 84.3V105.5M1030.6 89.6V95.5M1032.5 83V91.3M1035.1 76.5V92.8M1050.6 67.8V92.6M1052.8 60.4V88.1M1054.8 69.4V92M1060.6 108.7V116.8M1062.5 110.9V121.4M1064.5 107.2V124.4M1066.9 110.7V125.3M1069.4 106.3V122.1M1071 106.5V127.1M1073.1 106.8V125.1M1074.5 105.3V121.4M1076.9 107.6V127.1M1079.7 108V122M1080.6 112.2V122.8M1083.4 119.2V124.1M1084.5 105.2V126.8M1086.9 107.2V121.4M1087.5 96.6V105.6M1089.5 97.9V106.9M1091.7 96.3V106.3M1093.5 96.8V101.1M1095.9 100.7V108.4M1097.2 95.2V106.9M1099.8 99.8V107.6M1101.3 94.3V105.6M1103.4 95.6V103.9M1114.6 108.1V127.2M1116.7 108V127.3M1119.4 116V134.4M1121.1 118.6V130.9M1122.9 109V120M1125.4 106.5V133.3M1124.7 67.3V121.3M1126.6 66V119.1M1128.6 67.9V113.9M1130 71.1V112.8M1132.5 85.1V109.9M1134.9 67.1V113M1136.8 67.1V116.2M1138.3 64.3V123.1M1140.2 60.6V119.4M1135 68.6V118.2M1136.5 69.8V124M1139.6 72.5V127.8M1141.3 62.6V121.3M1143.5 67.4V115.9M1145 72.3V116.5M1144.7 70.4V137.8M1146.8 66.7V140.3M1148.8 68V142.4M1150.1 66.9V136.3M1152.9 77.8V132.1M1154 74.8V140.6M1156.2 69.9V129.9M1158.5 66.9V127.4M1160.8 69.9V132.7M1161.8 72.6V126.1M1164 70.3V129.5M1166.1 67.7V135.3M1168.1 78.2V135.4M1168.3 60.8V151.2M1170.3 73V148.1M1172.5 73.8V150M1174.2 74.3V145.3M1175.8 61.4V143M1178.7 62.4V146.7M1179.8 60V151.7M1181.7 61.4V147.4M1183.9 63.6V148.8M1186.6 62V152.1M1188.1 76.8V147.6M1189.9 75.4V151.8M1191.6 62.8V149.1M1185 60.9V129.5M1186.3 65.8V125.6M1188.7 60.2V130.2M1191.1 70.7V132.4M1192.7 62.1V128.6M1194.7 63.9V129M1196.2 60.2V125.5M1198.6 60.1V126.3M1200.1 62.2V128M1201.8 61.3V120.5M1204.6 66.1V118.7M1206.4 63.8V113.7M1208.2 66.1V125.4M1210.2 62.3V121.1M1211.6 72.9V128.8M1211.5 64.9V163.3M1213.5 68.2V161.5M1215.4 61.6V155.5M1217.3 65.4V168.4M1219.5 62.1V166.9M1221.1 63.5V169.4M1223.6 63.4V168M1225.9 64.1V168.5M1227.9 65.8V154.5M1228.7 73.3V155.9M1230.5 75.5V163.2M1233.3 64.4V156.2M1234.5 67.9V163.8M1228.3 65.2V142.7M1229.9 69.6V148.5M1231.9 75.1V151.5M1234.5 73.4V150.9M1237.1 72.3V151.2M1238.8 71.2V155.2M1240.5 61.3V151.3M1243.1 63.6V155.1M1244.7 60.7V145.6M1245.1 69.9V126.6M1247.6 69.6V122.7M1248.6 63.5V123.4M1250.8 64.5V122.9M1252.6 66V123.9M1254.2 74V122.9M1256.6 74.3V126.7M1259.3 65.6V124.1M1260.5 65.9V123.1M1263.3 64V125.4M1264.1 61.3V127M1198.5 375.5h0M1199.5 375.5h0M1201.7 375.5h0M1247.6 374.5h0M1249.7 374.5h0M1252.4 373.1V374.1M1254.7 373.1V374.4M1256.9 374.5h0M1259 374.5h0"/><g fill="#0000ff" stroke="#0000ff" fill-opacity="0.2" stroke-opacity="0.2" stroke-width="2.083" class="m"><circle cx="593.8" cy="335.4"/><circle cx="593.8" cy="339.4"/><circle cx="593.8" cy="346.3"/><circle cx="593.8" cy="352"/><circle cx="593.8" cy="356.1"/><circle cx="593.8" cy="362.4"/><circle cx="593.8" cy="371.3"/><circle cx="593.8" cy="375.6"/><circle cx="593.8" cy="61.1"/><circle cx="593.8" cy="66.5"/><circle cx="593.8" cy="73"/><circle cx="593.8" cy="78.3"/><circle cx="593.8" cy="85.1"/><circle cx="593.8" cy="91.8"/><circle cx="593.8" cy="100.5"/><circle cx="593.8" cy="109.5"/><circle cx="593.8" cy="113.7"/><circle cx="593.8" cy="120.5"/><circle cx="593.8" cy="128.3"/><circle cx="607.1" cy="323.1"/><circle cx="607.1" cy="332"/><circle cx="607.1" cy="338.2"/><circle cx="607.1" cy="343.6"/><circle cx="607.1" cy="350.3"/><circle cx="607.1" cy="359"/><circle cx="607.1" cy="363.6"/><circle cx="607.1" cy="367.7"/><circle cx="607.1" cy="374"/><circle cx="761.2" cy="183.4"/><circle cx="761.2" cy="192.3"/><circle cx="761.2" cy="198.2"/><circle cx="761.2" cy="202.3"/><circle cx="761.2" cy="210.5"/><circle cx="761.2" cy="215.1"/><circle cx="761.2" cy="220.3"/><circle cx="761.2" cy="227.1"/><circle cx="761.2" cy="234.4"/><circle cx="761.2" cy="242.1"/><circle cx="761.2" cy="249.5"/><circle cx="761.2" cy="258.4"/><circle cx="761.2" cy="266.1"/><circle cx="767.3" cy="180.5"/><circle cx="767.3" cy="188.3"/><circle cx="767.3" cy="193.6"/><circle cx="767.3" cy="199.7"/><circle cx="767.3" cy="206.2"/><circle cx="767.3" cy="211.9"/><circle cx="767.3" cy="217.2"/><circle cx="767.3" cy="222.7"/><circle cx="767.3" cy="228.2"/><circle cx="767.3" cy="235.8"/><circle cx="767.3" cy="243.2"/><circle cx="767.3" cy="251.9"/><circle cx="767.3" cy="259.9"/><circle cx="767.3" cy="264.2"/><circle cx="767.3" cy="271.5"/><circle cx="701.9" cy="194.1"/><circle cx="701.9" cy="199"/><circle cx="701.9" cy="207.6"/><circle cx="701.9" cy="214.2"/><circle cx="701.9" cy="223.1"/><circle cx="701.9" cy="228"/><circle cx="701.9" cy="235"/><circle cx="701.9" cy="243.9"/><circle cx="701.9" cy="251"/><circle cx="701.9" cy="256.2"/><circle cx="701.9" cy="264.1"/><circle cx="701.9" cy="268.2"/><circle cx="701.9" cy="274.9"/><circle cx="701.9" cy="281"/><circle cx="701.9" cy="285.4"/><circle cx="701.9" cy="294.2"/><circle cx="701.9" cy="301.4"/><circle cx="701.9" cy="307.8"/><circle cx="701.9" cy="316.7"/><circle cx="701.9" cy="322.5"/><circle cx="701.9" cy="331"/><circle cx="701.9" cy="336.6"/><circle cx="701.9" cy="344.8"/><circle cx="701.9" cy="351.3"/><circle cx="701.9" cy="355.5"/><circle cx="701.9" cy="362.2"/><circle cx="701.9" cy="370.6"/><circle cx="765.7" cy="206.9"/><circle cx="765.7" cy="215.6"/><circle cx="765.7" cy="221.4"/><circle cx="765.7" cy="229.7"/><circle cx="765.7" cy="237.9"/><circle cx="765.7" cy="243.2"/><circle cx="765.7" cy="249.8"/><circle cx="765.7" cy="256"/><circle cx="765.7" cy="260.1"/><circle cx="765.7" cy="264.5"/><circle cx="797.7" cy="87"/><circle cx="797.7" cy="93.5"/><circle cx="797.7" cy="98.4"/><circle cx="797.7" cy="105.8"/><circle cx="797.7" cy="112.2"/><circle cx="788.1" cy="180.7"/><circle cx="788.1" cy="188.8"/><circle cx="788.1" cy="195.2"/><circle cx="788.1" cy="199.9"/><circle cx="788.1" cy="206.3"/><circle cx="788.1" cy="210.9"/><circle cx="788.1" cy="218.4"/><circle cx="788.1" cy="225.9"/><circle cx="788.1" cy="232.7"/><circle cx="788.1" cy="241.6"/><circle cx="788.1" cy="245.9"/><circle cx="788.1" cy="253.4"/><circle cx="788.1" cy="261.4"/><circle cx="788.1" cy="266"/><circle cx="788.1" cy="271.6"/><circle cx="788.1" cy="275.9"/><circle cx="788.1" cy="282.8"/><circle cx="788.1" cy="290.4"/><circle cx="788.1" cy="296.1"/><circle cx="836.3" cy="56.3"/><circle cx="836.3" cy="60.7"/><circle cx="836.3" cy="65"/><circle cx="836.3" cy="72.2"/><circle cx="836.3" cy="76.8"/><circle cx="836.3" cy="81.6"/><circle cx="845.3" cy="58.7"/><circle cx="845.3" cy="67.2"/><circle cx="845.3" cy="75.6"/><circle cx="845.3" cy="84.5"/><circle cx="837" cy="290.8"/><circle cx="837" cy="296.6"/><circle cx="837" cy="304.2"/><circle cx="837" cy="311.5"/><circle cx="837" cy="317.6"/><circle cx="837" cy="324.2"/><circle cx="837" cy="329"/><circle cx="837" cy="337.5"/><circle cx="837" cy="343.9"/><circle cx="837" cy="350.4"/><circle cx="837" cy="358.4"/><circle cx="837" cy="363.4"/><circle cx="837" cy="371"/><circle cx="837" cy="376.7"/><circle cx="844.9" cy="291.1"/><circle cx="844.9" cy="298.3"/><circle cx="844.9" cy="304.7"/><circle cx="844.9" cy="310.6"/><circle cx="844.9" cy="317.5"/><circle cx="844.9" cy="322.6"/><circle cx="844.9" cy="328.7"/><circle cx="844.9" cy="332.8"/><circle cx="844.9" cy="340.8"/><circle cx="844.9" cy="346"/><circle cx="844.9" cy="354.2"/><circle cx="844.9" cy="360.9"/><circle cx="844.9" cy="367.9"/><circle cx="844.9" cy="375.1"/><circle cx="844.9" cy="379.7"/><circle cx="946.6" cy="56.3"/><circle cx="946.6" cy="61.1"/><circle cx="946.6" cy="65.8"/><circle cx="946.6" cy="71.3"/><circle cx="946.6" cy="78.8"/><circle cx="946.6" cy="85.7"/><circle cx="946.6" cy="90.3"/><circle cx="946.6" cy="98.3"/><circle cx="946.6" cy="104.8"/><circle cx="946.6" cy="109.6"/><circle cx="946.6" cy="117.7"/><circle cx="946.6" cy="125.8"/><circle cx="898.5" cy="294.3"/><circle cx="898.5" cy="298.9"/><circle cx="898.5" cy="304.6"/><circle cx="898.5" cy="309.3"/><circle cx="898.5" cy="315.4"/><circle cx="898.5" cy="324.3"/><circle cx="898.5" cy="332.5"/><circle cx="898.5" cy="341.3"/><circle cx="898.5" cy="346.4"/><circle cx="898.5" cy="351.5"/><circle cx="898.5" cy="355.6"/><circle cx="898.5" cy="361"/><circle cx="898.5" cy="365.3"/><circle cx="898.5" cy="371.9"/><circle cx="898.5" cy="377.4"/><circle cx="905.6" cy="296.4"/><circle cx="905.6" cy="301.9"/><circle cx="905.6" cy="309.6"/><circle cx="905.6" cy="317"/><circle cx="905.6" cy="324.6"/><circle cx="905.6" cy="330.9"/><circle cx="905.6" cy="337.3"/><circle cx="905.6" cy="342.7"/><circle cx="905.6" cy="346.9"/><circle cx="905.6" cy="353.2"/><circle cx="905.6" cy="360.3"/><circle cx="905.6" cy="365.2"/><circle cx="905.6" cy="373.5"/><circle cx="913.9" cy="297.3"/><circle cx="913.9" cy="303.7"/><circle cx="913.9" cy="308.6"/><circle cx="913.9" cy="313.9"/><circle cx="913.9" cy="321.6"/><circle cx="913.9" cy="330.6"/><circle cx="913.9" cy="335.1"/><circle cx="913.9" cy="339.1"/><circle cx="913.9" cy="344.9"/><circle cx="913.9" cy="350.7"/><circle cx="913.9" cy="357.6"/><circle cx="913.9" cy="362.2"/><circle cx="913.9" cy="370.4"/><circle cx="913.9" cy="376.1"/><circle cx="1129.7" cy="201"/><circle cx="1129.7" cy="209.6"/><circle cx="1129.7" cy="218.4"/><circle cx="1129.7" cy="227.2"/><circle cx="1129.7" cy="232.9"/><circle cx="1129.7" cy="241"/><circle cx="1130.5" cy="163.1"/><circle cx="1130.5" cy="170.8"/><circle cx="1130.5" cy="179.7"/><circle cx="1130.5" cy="188.4"/><circle cx="1130.5" cy="193.7"/><circle cx="1130.5" cy="202"/><circle cx="1130.5" cy="210.6"/><circle cx="1130.5" cy="219.3"/><circle cx="1130.5" cy="227.7"/><circle cx="1130.5" cy="232.1"/><circle cx="1130.5" cy="239.1"/><circle cx="607" cy="68"/><circle cx="618" cy="162"/></g><path fill="none" stroke="#0000ff" stroke-width="8.33" style="stroke-linecap:round" d="M186.8 163.6V196.9M188.8 168.4V197.5M190.4 169.1V196.5M192.6 161.7V198.1M195.7 167.1V204.1M194.6 165.9V199.5M196.9 161.8V205.3M199.7 171.1V203.9M200.1 177V207M202.7 168V206M204 173.7V204.3M206.5 168.9V197.6M207.9 178.1V203.7M209.4 173.4V197.5M209.9 172.3V206.5M211.4 170.5V201.6M213.7 181.8V207.3M215.3 183.3V204.7M217 174.6V202.5M219.5 173.2V205.1M221.3 177.9V209.5M223.4 186.7V203.5M225.4 175.6V202.4M224.3 171V207.3M227.5 169.9V209.4M228.8 176.1V204.6M231 173.8V207.1M233.5 171.4V210.1M234.5 168.5V213.8M234.5 165.4V208.3M237.1 171.8V193.9M240.4 167.3V199.3M239.7 163.8V206.9M243.1 178.9V208.7M244.6 176.3V202.5M245.2 166.2V206.4M247.9 155.4V198M249.8 150.6V184M249.5 148.2V202.2M252 144.4V188.4M255.1 132.1V192.9M254.9 132.5V191.6M256.5 130.1V190.3M258 134.7V186.8M260.8 134.3V176.1M262 128.5V171.3M262.3 132.7V173.7M264.4 133.7V176.5M266.4 141.1V182.4M267.9 150.1V188M268.6 143.9V179.3M270.1 150.4V180.1M271.9 154V186.7M274.4 154.1V185.9M275.5 165V176.1M277.9 158.1V185.4M277.7 150.4V191.3M279.3 153.9V181.4M282.7 151.1V171.3M283.4 151.6V166.5M286.6 153.5V161.4M288.1 151.6V160.2M289.9 157.5h0M289.8 156.8V162.7M292 153.2V163.8M293.6 152V158.9M296 149.3V156.2M297.3 148.6V156.5M300.6 152.2V154M302.5 147.8V148.8M301.8 149.7V154.4M303.2 134.9V144.7M305.2 118.1V135.7M304.7 132.4V137M307.7 123.6V137.6M309 115V138.2M310.7 118.4V135.3M312.7 117.3V128.8M315.2 111.3V132.4M317.7 114.6V133.6M316.5 116.4V135.3M319.5 124.8V129.6M320.6 117.4V133.2M323.5 124.3V130.6M325 117.7V132M325.3 114.4V132.2M326.6 118.1V125.7M329 123.3V124.5M330.4 120.3V136.6M333.1 124.1V141.2M335.3 126.1V142.8M335.7 126.9V148M337.5 127.9V145M338.3 130.7V146.9M340.1 124.7V140.5M342.1 128.1V140M344.4 124.9V143.2M346 123.3V142.6M347.6 130.2V140.8M349.8 133.8V136.3M350.6 122.8V141.6M351.8 128.4V139.4M354.6 124.9V133.6M356.3 108.6V130.3M357.4 105V126.7M359.7 97.4V106.4M359.5 101.5V109.6M362.6 105.1V114.7M363.4 98.1V115.4M366.1 103.9V120.2M368 94V120.8M370.7 97.5V115.5M371.6 92.3V114.4M372.3 93.8V119.5M373.8 101.5V114.4M375.6 96.4V122.2M378.6 86.6V113.8M380.1 93.1V120.1M379.7 85.9V118.2M382 90.4V118M383.3 91.8V125.3M386.5 93.7V124.3M388.3 93.7V127.4M388.6 87V127.3M390.3 90.5V118M391.6 95.1V125.2M393.6 93.7V130.8M395.6 93.4V126.3M397.5 90.2V128.8M399.4 96.1V128.7M400.6 89.7V133.4M401.8 92.2V133.6M403.8 92.4V135.5M405.8 96.6V126.1M408 96.8V131.7M410.6 94V131.6M411.4 95.5V134M414.3 98.5V132.9M416.2 95.3V127.8M417.3 96V127.1M419.3 96.8V135.3M420.3 97.7V127.5M421.7 97V136.2M424.4 95.9V136.1M425.8 104.4V140.7M427.4 105.4V136.9M429.6 93.1V135.2M429.7 97.8V140.7M431.5 96.6V141.1M433.5 111V131M436.1 115.4V136M437.9 99.4V128.1M438.8 98.4V138.1M441.1 100.2V142M443.7 104.9V140.9M444.8 103.2V138.6M444.7 97.8V135M446.2 102.3V129.2M448 106.1V134.3M450.9 111.3V122.1M452.5 111.1V119.7M451.9 111.7V119.3M453 119.7V136.4M454.4 111.1V150M455.6 115.7V148.8M456.3 124.3V143.4M457.9 124.3V152.2M460.7 123.6V146M462.5 119.9V155.8M473 118.1V160.2M475.6 111V152M477.6 115.4V159.2M479.2 116.5V150.8M481.2 114.8V152.1M482.5 110.3V153.9M485.2 110.5V158.8M484.7 130V142.4M487.2 124.2V143.8M490.1 123.3V143.6M492.4 119.9V149.6M493.7 133.2V141.1M493.7 113.5V122M495.5 111.3V125.6M498.1 114.7V122M499.4 118.1V118.2M501.6 115.5V118.5M498.4 98.4V145.2M501.3 97.5V152.9M502.6 101.7V156.4M504.2 96.9V155.5M507.1 101.7V154.3M508 98.5V154.1M509.9 97.1V148.4M511.9 99V152.8M513.7 99.8V152.9M517.8 93.9V150.6M521.5 110.1V139.8M523.4 107.8V135.1M525 107.9V143M527 115.3V138M529 113.8V142.7M531.2 107.6V133.6M534.1 106.6V142.9M533.4 97.1V128.8M535.6 96.9V126.7M537.8 91.6V123.1M540.2 106.3V133.1M542.9 99V124.2M544.2 95.5V122.8M546.5 93.1V124.5M540.6 138.3V210.3M542.3 133V204.3M544.6 138.7V203.9M546.6 136.1V206.5M548.6 139.4V210.4M549.9 139.9V209.6M552.3 139.8V209.1M552.4 194.1V260.6M553.8 185.7V261.1M555.9 194V257.4M557 189.7V262.3M559.5 196.2V250.7M561.5 189.4V260.5M563.1 189.4V259.6M558.6 252V307.9M559.4 252.5V304.6M561.4 251.5V308.3M564.5 247.3V300.7M565.9 250.4V305.5M566.1 251.3V305M568.7 259.8V303.6M570.4 263.1V307.7M572.6 248.9V306.5M573.3 251.9V299M575.8 253.2V306M575.5 263.3V304.5M577.8 262V304.9M579.8 264.4V307.5M581.6 261.7V297M582.8 263.5V295.2M585.6 268.9V307.1M586.3 261.4V305.8M587.6 234.8V305.1M589.3 236.4V303.1M591.3 243.3V307.7M592.5 246.7V303.7M595.5 238.6V304.5M596.6 233.9V303.7M590.6 312.8V325.5M592.5 311.7V324.2M594.3 311.4V322.6M595.9 311.8V323.7M597.6 315.1V321.4M598.4 110.7V189.6M600.8 110V187.7M602.5 105.9V187.6M604.5 113.9V185.2M606.6 113.4V187.1M592.9 141.1V190.4M600.6 84V138.4M602 81.7V133.2M605.1 82.7V140.4M607 82.3V133.1M609.2 86.3V127M605.8 225.1V315.1M608.1 220V308.1M609.8 218V313.6M612.7 217.5V315.9M615.4 217.1V313.7M616.4 222.9V307.3M619.1 212.6V316M616.6 112.8V122.7M618 105.4V129.1M620.6 103.7V135M618.3 143.2V246.1M620.7 144.8V239.5M623.3 152.7V247.6M625 148.5V244M626.5 145.4V239.6M629 150V223.9M631.3 142.9V237.2M627.8 144.6V152.3M643.7 166.6V244.9M645.8 165.9V192.6M645.8 236.1V245.7M646.5 161.8V188.3M646.5 231.7V241.2M649.6 161V191M649.6 237.1V248.4M650.6 161.9V188.3M650.6 231.6V241M640.3 200V263.2M642.7 194.7V261.8M645.5 200.7V259M647.4 209.6V262.8M649.7 206.1V262.9M644.1 94.4V152.7M645.9 92.4V151.4M647.9 93.6V135.6M649.7 84V147M652.5 88V146.8M654.2 86.4V149M656.5 94.2V151.2M656.2 106.5V178.9M658.2 107.5V173.8M660 105.3V174.4M662 105.2V181.6M664.2 110.3V173.8M666.5 109.1V174.8M665.4 89.5V151.7M668.4 82.6V160.7M669.5 82.3V159M671.9 74.6V159.6M673.4 73.5V163.5M675.6 74.7V157.7M677.5 73.5V155.2M679.4 78.9V165.1M681.9 82.5V159.1M683.4 86.9V98M683.4 157.7V162.2M685.4 77.2V91.2M685.4 157.6V164M686.9 74.7V89.7M686.9 158.2V165.2M689.5 75.9V89.9M689.5 156.2V162.6M691.3 84.6V95.9M691.3 156V160.6M693.3 83.9V96.4M693.3 159.4V164.8M694.8 74.2V154.8M696.7 74.8V157.8M699.8 74.5V154.1M701.3 74.1V151.8M702.7 78.4V153.2M704.6 84.7V160M698.1 166.4V175.9M704.6 109.8V149.2M707.4 106.6V152.4M708.6 105.2V153.4M711.4 106.9V149.5M712.4 105.2V154.7M715.5 108.2V158.4M714.7 115.1V147.5M716.6 119.9V153.3M719.3 118.9V151.3M720.4 117.4V145.6M722.4 117.5V149.2M724.6 118.4V147.8M727 115.7V151.9M729.1 114.4V154.4M728.5 133V154.8M730.5 134.2V165.1M732.9 129.3V158.9M735.3 132V162.5M737.5 132.2V158.8M738.7 135.3V132M738.7 159V162M741 89.8V118.5M739.1 133.9V205M740.3 139.7V205.6M743.1 135.8V198.5M744.6 150.1V204.8M747.4 150.6V148.2M747.4 192V202.5M749.4 138.3V136.8M749.4 184.9V198.1M746.3 130.8V206.4M747.9 140.1V202.3M750.1 134.4V199.5M752.4 131V202.2M753.9 141.7V205.8M756.8 130.4V202.9M758.9 140.9V202.2M760.5 131.9V203.5M763.5 139.6V204.5M757.4 84.6V91.9M759.5 91V91.2M761.2 90.1V92.9M763.6 89.8V93.3M766.3 82.3V90.8M768 86.6V86.9M769.5 83.2V85.6M763.8 247.3V266.1M768 305.5V322.2M702.2 326.7V346.2M759.4 166.7V192.5M761.7 163.5V181.6M764.6 160.9V191.9M766.5 164.2V184.4M763.7 236.4V241.5M764.7 239.4V244.3M767.2 237.1V239.9M768.7 300.5V324.8M770.2 303V326.1M772.3 303.8V324.3M775.2 309.8V325M775.5 286.1V322.5M776.4 282.7V325.2M778.8 279.6V321.3M781.1 281.3V314M782.9 275.8V312.4M785.6 276.3V304.1M786.6 272.9V303.9M788.6 279.7V310.4M789.2 310.6V321.4M791.7 312.8V334.5M792.9 327.8V332M795.1 313.7V334.4M797.5 311.2V336.9M800.3 314.8V312.5M802.2 309.1V308M802.2 337.7V332.1M759.5 87.2V90.5M762.1 88V91.4M763.4 87.5V93.3M766.5 85.9V93.6M767.8 84.1V91.3M769.9 90.9V93.2M771.4 85.2V93.3M788.7 91.3V111M791.1 90.9V111.8M794.2 96.2V111.6M794 71.1V96.1M796.5 72.9V99.4M798.1 75.4V100.6M799.7 68.9V100M788.8 200h0M799.6 161.4V193.9M802.7 162.7V164.7M802.7 193.9V203.4M804.7 169.4V167.8M804.7 192.2V195.4M806.7 175.3V172.4M806.7 195.2V196.3M808.7 172V171.4M808.7 197.2V202.1M802.2 139V154.6M803.6 138.1V152.5M806.3 144.9V152.4M808.8 144.3V146.2M810.7 144.9V153.9M811.7 89.2V108.4M812.4 85.4V107.3M815.6 85.9V104.2M817.3 84.9V103M818.2 89.6V108.5M820.3 90.5V102.3M802.5 322.4V327.3M805 325.3V327.3M807.7 324.4V327.1M809.3 323.8V327.1M811.3 323.3V323.9M812.4 319.3V326M815.4 321.1V326.6M808.9 352.8V362.7M810.7 354.2V360.2M816 278.8V329.9M817.3 279.4V324.5M820 275.3V325.9M822.3 284.6V322M823.4 283.5V324.8M826.6 275V330.7M827.5 272.7V322.8M830.1 277.2V327.5M832.5 287.5V316.1M833.5 281V282.4M833.5 318.4V321.1M835.9 277.8V278.3M835.9 312.4V314.1M821 244.7V265.9M822.8 244.9V265.3M824.9 247.1V265.5M827 247.9V258.7M829.5 243.6V265.3M831.3 257.1V260.7M833 253.6V264.3M836 248.8V253.4M837.8 249.4V258.3M836.6 81.4V91.9M837.9 89.3V90.9M840.9 92.5h0M842.5 92.5h0M845.1 92.5h0M846.4 89.2V94.2M837.7 350h0M844.2 335h0M843.5 232.9V255M846.1 235.2V253.5M848.5 247.1V257.6M850.4 233.5V263.5M852.3 233.7V257.3M853.4 235.1V265.1M855.4 235.1V255.8M857.7 239V263.7M845.3 274.2V303.5M847.6 283.6V302.6M849.7 292.7V298.6M851.9 285.8V301.4M853.9 285.7V298.9M855.9 277.5V300.3M857.8 288.4V291.7M860.2 285.6V291.7M862.3 280.2V293.2M864.2 283.8V299.4M865.8 285.7V303.7M868.1 281.2V306M862.2 81.9V89.8M864 79.6V96.2M866.9 78.1V97.8M868.2 85.5V96.8M870.8 91h0M869.4 275.1V322.3M913.1 70.7V73.5M915.8 65.4V73.8M918.1 62.6V84.5M919.9 62.1V78.6M922.1 60.7V81.6M912.2 89.3V144.1M913.5 87.4V147.1M915.9 85.7V155M918.1 95.5V157.6M919.7 84.8V148.9M922.4 91.4V152.9M946.8 62.9V128.6M948.2 62.6V118.1M939.5 170.6V178.9M941.4 168.2V178.4M942.2 171.6V173M944.9 174.5V180.9M945.9 172.1V175.1M947.9 172.2V175.5M949.7 170.1V179.5M951.8 170.3V175.9M953.3 170.4V179.4M961.7 163.8V210.7M964 171.5V212.8M965.8 163.8V210.6M967.9 167.7V213.1M969.8 171V212.6M971.8 165.2V209.9M973 176.6V204.6M972.1 97.7V150.2M974.6 99.4V141.4M976.6 97.5V148.3M978 107.3V147.3M979.6 96.6V150.5M982 99.9V144M984.1 102.1V145.2M986.7 103.5V149.9M988.4 96.5V148.8M981.6 62.6V85.5M982.5 69.1V89.6M984.5 60.1V89.3M986.6 60.5V84.5M988.4 64.9V86M990.7 61.4V59.5M990.7 89.2V88.3M992.6 63.7V60.5M992.6 87.2V84.8M993.9 67.9V64.4M993.9 90.7V88.1M996.5 62.4V60M996.5 88.5V87M998.5 69.8V82.9M1000 73.9V69.5M1000 93.7V89.9M875.1 272.6V324.6M876.9 266.7V324.4M879.5 268.8V324.7M881.5 276V322.3M883.1 271.3V322.8M877.6 243.1V304.5M880.4 239.6V301.6M882.2 235.4V258.3M882.2 297.9V306.9M884.6 237.9V257.7M884.6 295V302.4M886.6 234.5V255.1M886.6 292.9V300.7M888.7 245.8V307.9M890.7 236.9V305.4M892.8 241.5V304.9M894.2 235.1V311.3M896.5 243V308.7M899.1 236.8V311.6M900.9 235.6V311.9M902.2 245V309.2M905.1 246.5V307.6M907 246.5V301.4M909.4 244.9V311.7M911.5 242.4V310.8M912.5 235V302.9M915.2 238.2V305.9M916.8 186.8V308.9M918.4 197.2V312.1M920.8 186.3V214.4M920.8 294.5V312.3M922.4 193.6V218.5M922.4 292.9V308.3M925.6 189.8V214.7M925.6 289.2V304.7M926.3 186.1V213.1M926.3 291.3V308.3M928.9 190.2V215.6M928.9 291.1V307M930.4 191.5V304.8M932.6 193.5V305.3M935.4 189.9V306.5M937.4 197.7V300.4M939.4 195.5V309.7M940.6 185.6V303.2M943.1 188.5V193.8M943.1 252.1V295.3M944.7 188.5V195.1M944.7 257.8V306.3M947.2 185.9V193.5M947.2 259V311.1M948.5 205V209.2M948.5 264.2V303.4M951 193.5V199M951 258V302M941.8 194.7V367.2M943.4 190.6V373.8M946.4 188V369.5M948 197.2V375.6M949.8 189.3V374.1M952.5 194.3V374M954.7 186.6V375.7M955.6 188.7V373.3M958.6 192V371.8M959.3 187.2V358.6M962.5 184.4V360.1M962.1 186.3V313.1M963.5 186.9V315.3M966.8 186.8V312.5M968.1 194V325.1M970.4 188.7V315.1M972.9 190.7V320.6M975 191.7V322.5M927.7 357.5h0M930.5 357.5h0M982.8 352.4V373.6M984.6 357.1V376.4M986.6 351.3V375.4M989.3 349.7V370.2M992.2 365.2V368M993.2 357.7V365.9M995.9 352.2V374.2M998.2 363.2V367.8M1000.5 359.9V369M982.5 359V373M985.7 363.1V366.3M988 363.7V370.9M989.7 362.9V367.4M992.2 366.9V374.7M993.9 359.4V369.5M996.1 364.4V374.4M997.3 363.1V369M1000.7 357.3V370.1M1005.6 312.5V374M1015.3 306.6V368.9M1018.4 345.9V355.6M1021.7 333.9V360M1023.2 336.7V370.7M1025.3 340.1V361.6M1027.1 334.4V367.7M1029.5 336.9V369.3M1032.1 339.9V370.6M1033.9 337.2V363.9M1036.7 289.7V293.6M1048.5 241.9V369.1M1050.2 239.6V365.1M1052.6 237.4V372.5M1053.6 243.7V373.4M1055.4 263.7V372.7M1057.6 281.7V374.5M1059.2 278.5V373.4M1062.3 264.1V372.6M1064.7 257.7V370.7M1061.4 337.6V374.2M1063.8 330.1V372.8M1066 334.5V370.8M1067.3 334.6V373.1M1070.2 332.4V373.2M1071.8 329.2V367.9M1073.8 330V361.8M1075.6 329.7V363.6M1092 342.4V367.5M1094.3 342.2V363.8M1096.9 341.2V355.9M1098.6 343.1V374.9M1100.8 347.2V369.3M1103 347.2V370.9M1102.3 321.2V374.6M1105.8 323.7V376M1107.1 322.2V371.5M1109.6 325.3V372.7M1111.9 320.3V370.5M1113.1 321.2V369M1116 324.2V374.8M1117.4 340.7V376.4M1119.7 323.3V375.2M1122.2 247.7V361.8M1123.6 258.6V353.3M1125.9 256.6V361.7M1128.4 255.3V355.6M1130.1 259.8V297.4M1130.1 352.7V371.3M1133 250.2V286M1133 339.8V357.4M1149.7 256.8V369.2M1151.6 256.7V371.7M1154.3 265.8V372.5M989.6 63.6V66.9M992.7 64.2V67.9M993.4 62.9V74.1M995.4 68.2V72.5M997.6 64V69.9M999.5 62.1V74M1001.4 67.3V118.2M1003.8 73.2V119.6M1006.4 69.5V122.3M1007.9 63.8V120.3M1010.5 61.8V116.7M1011.5 69.6V122.7M1012.4 70.9V105.9M1014.1 64.3V111.2M1015.6 74.1V110.3M1018.2 60.2V111.5M1020 63V111.6M1037.8 63.2V98.6M1040.5 67.2V102.6M1041.9 72.3V93.7M1044.8 70.1V96.2M1060.6 62.6V99.8M1062.6 65.8V102.5M1064.8 70.3V99M1067 61.1V101.5M1069.5 66.8V63.3M1069.5 95.3V94M1071.7 64.8V60.9M1071.7 91.4V89.5M1072.9 79.6V74.8M1072.9 102.4V99.2M1075.6 75.2V71.2M1075.6 101.6V99.6M1076.8 70.4V100.5M1079.7 63.1V97.5M1081.6 76.4V100M1083.4 76.7V97.9M1085.5 79.9V93.4M1087.6 77V95.1M1087.6 60.1V77.2M1088.5 61.6V78.5M1091.8 61.3V73.9M1093 63.7V74.7M1095.5 60.7V75.7M1097.8 65.8V80.5M1099.9 61.6V78.8M1102.3 69V75.8M1104 72.3V81.7M1114.9 62.3V114.2M1117.1 70.7V100.3M1118.4 75V111.1M1130.1 85.2V116.7M1132.5 79.3V122.4M1134.4 84.6V121.8M1135.7 93.1V118.5M1137.5 82.9V122.7M1139.6 88.2V119.8M1129.6 142.6V155.2M1132.4 144V158.1M1134.3 147V155.8M1130.1 158.5h0M1131.6 188.5h0M1134.6 62.5V112.1M1137.6 61V113.5M1139.4 60.7V112M1155.3 72.1V98.4M1156.8 77.7V95.4M1160 70.3V94M1162.2 78.2V97.9M1163.9 85.2V92.9M1166.1 92.5V93.8M1167.5 73.7V101.6M1167.5 69.5V116.5M1170.5 69.4V108.3M1172.4 71.5V119.7M1174.2 69.6V124.9M1177.1 73.4V124.2M1178.5 70.5V115.8M1180.5 69.1V71.4M1180.5 114V115.2M1182.7 70.5V74M1182.7 119.5V121.6M1184.4 78.8V78.7M1184.4 115V114M1184.4 67.4V102.9M1186.5 69.4V93.4M1188.8 66.6V96.1M1190.9 60.9V100.5M1192.9 63.8V101.3M1195.7 60.8V94.6M1197.7 62.4V102.7M1200.4 61.3V102.7M1202 63.9V102.8M1201.5 63.4V113.9M1204.4 67.3V110M1205.8 62.4V106.2M1208.6 66.7V101.8M1209.9 60.5V102.4M1211.7 74.3V101.8M1212 96.7V155.1M1213.6 97.8V159.1M1215.8 96.3V157.3M1217.5 96.8V161.7M1219.5 109.5V153.6M1222.1 88V158.3M1223.5 88.4V159.6M1226.3 87.8V151.6M1228.2 89.8V151.4M1229.5 90.6V159.8M1231.3 93.4V151.1M1214.5 71.7V82.4M1216.4 69.1V84.1M1218.8 68.9V74.8M1220.7 69.8V78.1M1223.2 72.6V79M1225.1 73.5V80.7M1227.6 78.4V122.1M1230.5 76.4V121.9M1232.2 77.8V111.3M1233.9 75.2V86.7M1233.9 116.7V114.9M1235.9 77.4V88.6M1235.9 118.5V116.6M1238.5 82.2V87.7M1238.5 113.5V109.8M1240.3 75.6V108.3M1243.1 86.5V108.2M1245.6 93.2V115.9M1245.6 61.4V103.9M1247.1 62.1V102.9M1249.7 60.4V99.3M1251.3 72.6V104.5M1253.2 62.4V103.2M1254.9 63.8V104.7M1257.5 65.5V103.7M1259.4 68.7V101.1M1261.5 63.1V60.2M1261.5 95.3V100.9M1263.7 61.4V58.5M1263.7 93.7V99.4M1181 378.5h0M1262.2 377h0"/></g>
   </g>
   <g id="PathCollection_1">
    <defs>
     <path id="mdd81df09b4" d="M 0 1.5 
C 0.397805 1.5 0.77937 1.341951 1.06066 1.06066 
C 1.341951 0.77937 1.5 0.397805 1.5 0 
C 1.5 -0.397805 1.341951 -0.77937 1.06066 -1.06066 
C 0.77937 -1.341951 0.397805 -1.5 0 -1.5 
C -0.397805 -1.5 -0.77937 -1.341951 -1.06066 -1.06066 
C -1.341951 -0.77937 -1.5 -0.397805 -1.5 0 
C -1.5 0.397805 -1.341951 0.77937 -1.06066 1.06066 
C -0.77937 1.341951 -0.397805 1.5 0 1.5 
z
" style="stroke: #0000ff; stroke-opacity: 0.2"/>
    </defs>
   </g>
   <g id="patch_8">
    <path d="M 90 183.6 
L 90 25.92 
" style="fill: none; stroke: #000000; stroke-width: 0.8; stroke-linejoin: miter; stroke-linecap: square"/>
   </g>
   <g id="patch_9">
    <path d="M 648 183.6 
L 648 25.92 
" style="fill: none; stroke: #000000; stroke-width: 0.8; stroke-linejoin: miter; stroke-linecap: square"/>
   </g>
   <g id="patch_10">
    <path d="M 90 183.6 
L 648 183.6 
" style="fill: none; stroke: #000000; stroke-width: 0.8; stroke-linejoin: miter; stroke-linecap: square"/>
   </g>
   <g id="patch_11">
    <path d="M 90 25.92 
L 648 25.92 
" style="fill: none; stroke: #000000; stroke-width: 0.8; stroke-linejoin: miter; stroke-linecap: square"/>
   </g>
   <g id="line2d_39">
    <path d="M 95.52 183.6 
L 95.52 25.92 
" clip-path="url(#pb94ecb44f5)" style="fill: none; stroke-dasharray: 5.55,2.4; stroke-dashoffset: 0; stroke: #000000; stroke-width: 1.5"/>
   </g>
   <g id="line2d_40">
    <path d="M 224.304 183.6 
L 224.304 25.92 
" clip-path="url(#pb94ecb44f5)" style="fill: none; stroke-dasharray: 5.55,2.4; stroke-dashoffset: 0; stroke: #000000; stroke-width: 1.5"/>
   </g>
   <g id="line2d_41">
    <path d="M 353.088 183.6 
L 353.088 25.92 
" clip-path="url(#pb94ecb44f5)" style="fill: none; stroke-dasharray: 5.55,2.4; stroke-dashoffset: 0; stroke: #000000; stroke-width: 1.5"/>
   </g>
   <g id="line2d_42">
    <path d="M 481.92 183.6 
L 481.92 25.92 
" clip-path="url(#pb94ecb44f5)" style="fill: none; stroke-dasharray: 5.55,2.4; stroke-dashoffset: 0; stroke: #000000; stroke-width: 1.5"/>
   </g>
   <g id="legend_1">
    <g id="patch_12">
     <path d="M 92 22.656 
L 461.18125 22.656 
Q 463.18125 22.656 463.18125 20.656 
L 463.18125 6.977875 
Q 463.18125 4.977875 461.18125 4.977875 
L 92 4.977875 
Q 90 4.977875 90 6.977875 
L 90 20.656 
Q 90 22.656 92 22.656 
z
" style="fill: #ffffff; opacity: 0.8; stroke: #cccccc; stroke-linejoin: miter"/>
    </g>
    <g id="PathCollection_2">
     <g>
      <use href="#mfba19ebd6b" x="104" y="13.951312" style="fill: #bfbf00; fill-opacity: 0.6; stroke: #bfbf00; stroke-opacity: 0.6"/>
     </g>
    </g>
    <g id="text_22">
     <text style="font-size: 10px; font-family: 'DejaVu Sans', sans-serif; text-anchor: start" x="122" y="16.576312" transform="rotate(-0 122 16.576312)">10m Wind Direction (5s)</text>
    </g>
    <g id="PathCollection_3">
     <g>
      <use href="#mdd81df09b4" x="273.671875" y="13.951312" style="fill: #0000ff; fill-opacity: 0.2; stroke: #0000ff; stroke-opacity: 0.2"/>
     </g>
    </g>
    <g id="text_23">
     <text style="font-size: 10px; font-family: 'DejaVu Sans', sans-serif; text-anchor: start" x="291.671875" y="16.576312" transform="rotate(-0 291.671875 16.576312)">2-minute WD Avg</text>
    </g>
    <g id="patch_13">
     <path d="M 399.373438 16.576312 
L 419.373438 16.576312 
L 419.373438 9.576312 
L 399.373438 9.576312 
z
" style="fill: #808080; fill-opacity: 0.2; stroke-opacity: 0.2; stroke: #808080; stroke-linejoin: miter"/>
    </g>
    <g id="text_24">
     <text style="font-size: 10px; font-family: 'DejaVu Sans', sans-serif; text-anchor: start" x="427.373438" y="16.576312" transform="rotate(-0 427.373438 16.576312)">NIGHT</text>
    </g>
   </g>
   <g id="text_25">
    <text style="font-size: 10px; font-family: 'DejaVu Sans', sans-serif; text-anchor: start; fill: #262626" x="99.984" y="46.08" transform="rotate(-0 99.984 46.08)">10/30</text>
   </g>
   <g id="text_26">
    <text style="font-size: 10px; font-family: 'DejaVu Sans', sans-serif; text-anchor: start; fill: #262626" x="228.768" y="46.08" transform="rotate(-0 228.768 46.08)">10/31</text>
   </g>
   <g id="text_27">
    <text style="font-size: 10px; font-family: 'DejaVu Sans', sans-serif; text-anchor: start; fill: #262626" x="357.552" y="46.08" transform="rotate(-0 357.552 46.08)">11/01</text>
   </g>
   <g id="text_28">
    <text style="font-size: 10px; font-family: 'DejaVu Sans', sans-serif; text-anchor: start; fill: #262626" x="486.384" y="46.08" transform="rotate(-0 486.384 46.08)">11/02</text>
   </g>
  </g>
  <g id="axes_2">
   <g id="matplotlib.axis_3">
    <g id="ytick_6">
     <g id="line2d_43">
      <defs>
       <path id="m33c4ce201d" d="M 0 0 
L 3.5 0 
" style="stroke: #000000; stroke-width: 0.8"/>
      </defs>
      <g>
       <use href="#m33c4ce201d" x="648" y="183.6" style="stroke: #000000; stroke-width: 0.8"/>
      </g>
     </g>
     <g id="text_29">
      <text style="font-size: 10px; font-family: 'DejaVu Sans', sans-serif; text-anchor: start" x="655" y="187.399219" transform="rotate(-0 655 187.399219)">N</text>
     </g>
    </g>
    <g id="ytick_7">
     <g id="line2d_44">
      <g>
       <use href="#m33c4ce201d" x="648" y="144.18" style="stroke: #000000; stroke-width: 0.8"/>
      </g>
     </g>
     <g id="text_30">
      <text style="font-size: 10px; font-family: 'DejaVu Sans', sans-serif; text-anchor: start" x="655" y="147.979219" transform="rotate(-0 655 147.979219)">E</text>
     </g>
    </g>
    <g id="ytick_8">
     <g id="line2d_45">
      <g>
       <use href="#m33c4ce201d" x="648" y="104.76" style="stroke: #000000; stroke-width: 0.8"/>
      </g>
     </g>
     <g id="text_31">
      <text style="font-size: 10px; font-family: 'DejaVu Sans', sans-serif; text-anchor: start" x="655" y="108.559219" transform="rotate(-0 655 108.559219)">S</text>
     </g>
    </g>
    <g id="ytick_9">
     <g id="line2d_46">
      <g>
       <use href="#m33c4ce201d" x="648" y="65.34" style="stroke: #000000; stroke-width: 0.8"/>
      </g>
     </g>
     <g id="text_32">
      <text style="font-size: 10px; font-family: 'DejaVu Sans', sans-serif; text-anchor: start" x="655" y="69.139219" transform="rotate(-0 655 69.139219)">W</text>
     </g>
    </g>
    <g id="ytick_10">
     <g id="line2d_47">
      <g>
       <use href="#m33c4ce201d" x="648" y="25.92" style="stroke: #000000; stroke-width: 0.8"/>
      </g>
     </g>
     <g id="text_33">
      <text style="font-size: 10px; font-family: 'DejaVu Sans', sans-serif; text-anchor: start" x="655" y="29.719219" transform="rotate(-0 655 29.719219)">N</text>
     </g>
    </g>
   </g>
   <g id="patch_14">
    <path d="M 90 183.6 
L 90 25.92 
" style="fill: none; stroke: #000000; stroke-width: 0.8; stroke-linejoin: miter; stroke-linecap: square"/>
   </g>
   <g id="patch_15">
    <path d="M 648 183.6 
L 648 25.92 
" style="fill: none; stroke: #000000; stroke-width: 0.8; stroke-linejoin: miter; stroke-linecap: square"/>
   </g>
   <g id="patch_16">
    <path d="M 90 183.6 
L 648 183.6 
" style="fill: none; stroke: #000000; stroke-width: 0.8; stroke-linejoin: miter; stroke-linecap: square"/>
   </g>
   <g id="patch_17">
    <path d="M 90 25.92 
L 648 25.92 
" style="fill: none; stroke: #000000; stroke-width: 0.8; stroke-linejoin: miter; stroke-linecap: square"/>
   </g>
  </g>
 </g>
 <defs>
  <clipPath id="pb94ecb44f5">
   <rect x="90" y="25.92" width="558" height="157.68"/>
  </clipPath>
 </defs>
</svg>

</body></html>
